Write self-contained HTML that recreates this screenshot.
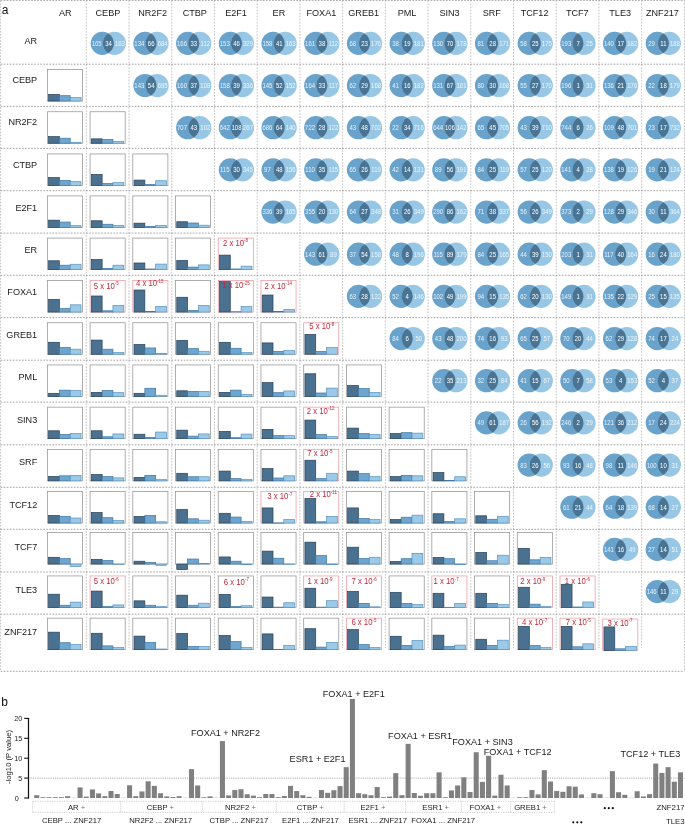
<!DOCTYPE html>
<html><head><meta charset="utf-8"><title>Figure</title>
<style>html,body{margin:0;padding:0;background:#fff;}body{width:685px;height:824px;position:relative;overflow:hidden;font-family:"Liberation Sans",sans-serif;}</style></head>
<body>
<svg width="685" height="824" viewBox="0 0 685 824" style="position:absolute;left:0;top:0;will-change:transform" font-family="Liberation Sans, sans-serif">
<rect width="685" height="824" fill="#fff"/>
<g fill="none" stroke-width="0.7" stroke-dasharray="1.7 1.35">
<path d="M0.6 0.4H684.5" stroke="#808080"/>
<path d="M0.6 671.3H684.5" stroke="#808080"/>
<path d="M0.6 0.4V671.4" stroke="#ababab"/>
<path d="M684.5 0.4V671.4" stroke="#ababab"/>
<path d="M86.30 0.4V648" stroke="#ababab"/>
<path d="M129.02 0.4V648" stroke="#ababab"/>
<path d="M171.74 0.4V648" stroke="#ababab"/>
<path d="M214.46 0.4V648" stroke="#ababab"/>
<path d="M257.18 0.4V648" stroke="#ababab"/>
<path d="M299.90 0.4V648" stroke="#ababab"/>
<path d="M342.62 0.4V648" stroke="#ababab"/>
<path d="M385.34 0.4V648" stroke="#ababab"/>
<path d="M428.06 0.4V648" stroke="#ababab"/>
<path d="M470.78 0.4V648" stroke="#ababab"/>
<path d="M513.50 0.4V648" stroke="#ababab"/>
<path d="M556.22 0.4V648" stroke="#ababab"/>
<path d="M598.94 0.4V648" stroke="#ababab"/>
<path d="M641.66 0.4V648" stroke="#ababab"/>
<path d="M0.6 64.20H684.5" stroke="#808080"/>
<path d="M0.6 106.40H684.5" stroke="#808080"/>
<path d="M0.6 148.40H684.5" stroke="#808080"/>
<path d="M0.6 190.70H684.5" stroke="#808080"/>
<path d="M0.6 233.10H684.5" stroke="#808080"/>
<path d="M0.6 275.30H684.5" stroke="#808080"/>
<path d="M0.6 317.60H684.5" stroke="#808080"/>
<path d="M0.6 360.20H684.5" stroke="#808080"/>
<path d="M0.6 402.10H684.5" stroke="#808080"/>
<path d="M0.6 444.80H684.5" stroke="#808080"/>
<path d="M0.6 487.30H684.5" stroke="#808080"/>
<path d="M0.6 529.30H684.5" stroke="#808080"/>
<path d="M0.6 572.00H684.5" stroke="#808080"/>
<path d="M0.6 614.20H684.5" stroke="#808080"/>
</g>
<g font-size="9.1" fill="#1a1a1a">
<text x="65.25" y="15.8" text-anchor="middle">AR</text>
<text x="107.90" y="15.8" text-anchor="middle">CEBP</text>
<text x="152.60" y="15.8" text-anchor="middle">NR2F2</text>
<text x="194.80" y="15.8" text-anchor="middle">CTBP</text>
<text x="236.00" y="15.8" text-anchor="middle">E2F1</text>
<text x="278.90" y="15.8" text-anchor="middle">ER</text>
<text x="321.40" y="15.8" text-anchor="middle">FOXA1</text>
<text x="363.70" y="15.8" text-anchor="middle">GREB1</text>
<text x="407.00" y="15.8" text-anchor="middle">PML</text>
<text x="449.50" y="15.8" text-anchor="middle">SIN3</text>
<text x="491.80" y="15.8" text-anchor="middle">SRF</text>
<text x="534.60" y="15.8" text-anchor="middle">TCF12</text>
<text x="577.25" y="15.8" text-anchor="middle">TCF7</text>
<text x="620.20" y="15.8" text-anchor="middle">TLE3</text>
<text x="662.40" y="15.8" text-anchor="middle">ZNF217</text>
<text x="37.2" y="43.70" text-anchor="end">AR</text>
<text x="37.2" y="82.70" text-anchor="end">CEBP</text>
<text x="37.2" y="125.40" text-anchor="end">NR2F2</text>
<text x="37.2" y="168.10" text-anchor="end">CTBP</text>
<text x="37.2" y="210.60" text-anchor="end">E2F1</text>
<text x="37.2" y="252.70" text-anchor="end">ER</text>
<text x="37.2" y="295.40" text-anchor="end">FOXA1</text>
<text x="37.2" y="337.50" text-anchor="end">GREB1</text>
<text x="37.2" y="380.40" text-anchor="end">PML</text>
<text x="37.2" y="422.70" text-anchor="end">SIN3</text>
<text x="37.2" y="465.40" text-anchor="end">SRF</text>
<text x="37.2" y="507.50" text-anchor="end">TCF12</text>
<text x="37.2" y="550.40" text-anchor="end">TCF7</text>
<text x="37.2" y="592.70" text-anchor="end">TLE3</text>
<text x="37.2" y="635.40" text-anchor="end">ZNF217</text>
</g>
<text x="1.8" y="13.9" font-size="12" fill="#111">a</text>
<text x="1.3" y="705.6" font-size="12" fill="#111">b</text>
<circle cx="102.30" cy="43.35" r="11.6" fill="#69a2cb"/>
<circle cx="114.40" cy="43.35" r="11.6" fill="#97c7e5"/>
<path d="M108.35 33.45A11.6 11.6 0 0 1 108.35 53.25A11.6 11.6 0 0 1 108.35 33.45Z" fill="#4a7493"/>
<g font-size="6.5" text-anchor="middle"><text transform="translate(96.65 45.80) scale(.92 1)" fill="#e6f1f9">165</text><text transform="translate(108.45 45.80) scale(.92 1)" fill="#fff">34</text><text transform="translate(119.95 45.80) scale(.92 1)" fill="#edf5fb">163</text></g>
<circle cx="144.99" cy="43.35" r="11.6" fill="#69a2cb"/>
<circle cx="157.09" cy="43.35" r="11.6" fill="#97c7e5"/>
<path d="M151.04 33.45A11.6 11.6 0 0 1 151.04 53.25A11.6 11.6 0 0 1 151.04 33.45Z" fill="#4a7493"/>
<g font-size="6.5" text-anchor="middle"><text transform="translate(139.34 45.80) scale(.92 1)" fill="#e6f1f9">134</text><text transform="translate(151.14 45.80) scale(.92 1)" fill="#fff">66</text><text transform="translate(162.64 45.80) scale(.92 1)" fill="#edf5fb">684</text></g>
<circle cx="187.68" cy="43.35" r="11.6" fill="#69a2cb"/>
<circle cx="199.78" cy="43.35" r="11.6" fill="#97c7e5"/>
<path d="M193.73 33.45A11.6 11.6 0 0 1 193.73 53.25A11.6 11.6 0 0 1 193.73 33.45Z" fill="#4a7493"/>
<g font-size="6.5" text-anchor="middle"><text transform="translate(182.03 45.80) scale(.92 1)" fill="#e6f1f9">166</text><text transform="translate(193.83 45.80) scale(.92 1)" fill="#fff">33</text><text transform="translate(205.33 45.80) scale(.92 1)" fill="#edf5fb">112</text></g>
<circle cx="230.37" cy="43.35" r="11.6" fill="#69a2cb"/>
<circle cx="242.47" cy="43.35" r="11.6" fill="#97c7e5"/>
<path d="M236.42 33.45A11.6 11.6 0 0 1 236.42 53.25A11.6 11.6 0 0 1 236.42 33.45Z" fill="#4a7493"/>
<g font-size="6.5" text-anchor="middle"><text transform="translate(224.72 45.80) scale(.92 1)" fill="#e6f1f9">153</text><text transform="translate(236.52 45.80) scale(.92 1)" fill="#fff">46</text><text transform="translate(248.02 45.80) scale(.92 1)" fill="#edf5fb">329</text></g>
<circle cx="273.06" cy="43.35" r="11.6" fill="#69a2cb"/>
<circle cx="285.16" cy="43.35" r="11.6" fill="#97c7e5"/>
<path d="M279.11 33.45A11.6 11.6 0 0 1 279.11 53.25A11.6 11.6 0 0 1 279.11 33.45Z" fill="#4a7493"/>
<g font-size="6.5" text-anchor="middle"><text transform="translate(267.41 45.80) scale(.92 1)" fill="#e6f1f9">158</text><text transform="translate(279.21 45.80) scale(.92 1)" fill="#fff">41</text><text transform="translate(290.71 45.80) scale(.92 1)" fill="#edf5fb">163</text></g>
<circle cx="315.75" cy="43.35" r="11.6" fill="#69a2cb"/>
<circle cx="327.85" cy="43.35" r="11.6" fill="#97c7e5"/>
<path d="M321.80 33.45A11.6 11.6 0 0 1 321.80 53.25A11.6 11.6 0 0 1 321.80 33.45Z" fill="#4a7493"/>
<g font-size="6.5" text-anchor="middle"><text transform="translate(310.10 45.80) scale(.92 1)" fill="#e6f1f9">161</text><text transform="translate(321.90 45.80) scale(.92 1)" fill="#fff">38</text><text transform="translate(333.40 45.80) scale(.92 1)" fill="#edf5fb">112</text></g>
<circle cx="358.44" cy="43.35" r="11.6" fill="#69a2cb"/>
<circle cx="370.54" cy="43.35" r="11.6" fill="#97c7e5"/>
<path d="M364.49 33.45A11.6 11.6 0 0 1 364.49 53.25A11.6 11.6 0 0 1 364.49 33.45Z" fill="#4a7493"/>
<g font-size="6.5" text-anchor="middle"><text transform="translate(352.79 45.80) scale(.92 1)" fill="#e6f1f9">68</text><text transform="translate(364.59 45.80) scale(.92 1)" fill="#fff">23</text><text transform="translate(376.09 45.80) scale(.92 1)" fill="#edf5fb">176</text></g>
<circle cx="401.13" cy="43.35" r="11.6" fill="#69a2cb"/>
<circle cx="413.23" cy="43.35" r="11.6" fill="#97c7e5"/>
<path d="M407.18 33.45A11.6 11.6 0 0 1 407.18 53.25A11.6 11.6 0 0 1 407.18 33.45Z" fill="#4a7493"/>
<g font-size="6.5" text-anchor="middle"><text transform="translate(395.48 45.80) scale(.92 1)" fill="#e6f1f9">38</text><text transform="translate(407.28 45.80) scale(.92 1)" fill="#fff">19</text><text transform="translate(418.78 45.80) scale(.92 1)" fill="#edf5fb">181</text></g>
<circle cx="443.82" cy="43.35" r="11.6" fill="#69a2cb"/>
<circle cx="455.92" cy="43.35" r="11.6" fill="#97c7e5"/>
<path d="M449.87 33.45A11.6 11.6 0 0 1 449.87 53.25A11.6 11.6 0 0 1 449.87 33.45Z" fill="#4a7493"/>
<g font-size="6.5" text-anchor="middle"><text transform="translate(438.17 45.80) scale(.92 1)" fill="#e6f1f9">130</text><text transform="translate(449.97 45.80) scale(.92 1)" fill="#fff">70</text><text transform="translate(461.47 45.80) scale(.92 1)" fill="#edf5fb">178</text></g>
<circle cx="486.51" cy="43.35" r="11.6" fill="#69a2cb"/>
<circle cx="498.61" cy="43.35" r="11.6" fill="#97c7e5"/>
<path d="M492.56 33.45A11.6 11.6 0 0 1 492.56 53.25A11.6 11.6 0 0 1 492.56 33.45Z" fill="#4a7493"/>
<g font-size="6.5" text-anchor="middle"><text transform="translate(480.86 45.80) scale(.92 1)" fill="#e6f1f9">81</text><text transform="translate(492.66 45.80) scale(.92 1)" fill="#fff">28</text><text transform="translate(504.16 45.80) scale(.92 1)" fill="#edf5fb">171</text></g>
<circle cx="529.20" cy="43.35" r="11.6" fill="#69a2cb"/>
<circle cx="541.30" cy="43.35" r="11.6" fill="#97c7e5"/>
<path d="M535.25 33.45A11.6 11.6 0 0 1 535.25 53.25A11.6 11.6 0 0 1 535.25 33.45Z" fill="#4a7493"/>
<g font-size="6.5" text-anchor="middle"><text transform="translate(523.55 45.80) scale(.92 1)" fill="#e6f1f9">58</text><text transform="translate(535.35 45.80) scale(.92 1)" fill="#fff">25</text><text transform="translate(546.85 45.80) scale(.92 1)" fill="#edf5fb">175</text></g>
<circle cx="571.89" cy="43.35" r="11.6" fill="#69a2cb"/>
<circle cx="583.99" cy="43.35" r="11.6" fill="#97c7e5"/>
<path d="M577.94 33.45A11.6 11.6 0 0 1 577.94 53.25A11.6 11.6 0 0 1 577.94 33.45Z" fill="#4a7493"/>
<g font-size="6.5" text-anchor="middle"><text transform="translate(566.24 45.80) scale(.92 1)" fill="#e6f1f9">193</text><text transform="translate(578.04 45.80) scale(.92 1)" fill="#fff">7</text><text transform="translate(589.54 45.80) scale(.92 1)" fill="#edf5fb">25</text></g>
<circle cx="614.58" cy="43.35" r="11.6" fill="#69a2cb"/>
<circle cx="626.68" cy="43.35" r="11.6" fill="#97c7e5"/>
<path d="M620.63 33.45A11.6 11.6 0 0 1 620.63 53.25A11.6 11.6 0 0 1 620.63 33.45Z" fill="#4a7493"/>
<g font-size="6.5" text-anchor="middle"><text transform="translate(608.93 45.80) scale(.92 1)" fill="#e6f1f9">140</text><text transform="translate(620.73 45.80) scale(.92 1)" fill="#fff">17</text><text transform="translate(632.23 45.80) scale(.92 1)" fill="#edf5fb">182</text></g>
<circle cx="657.27" cy="43.35" r="11.6" fill="#69a2cb"/>
<circle cx="669.37" cy="43.35" r="11.6" fill="#97c7e5"/>
<path d="M663.32 33.45A11.6 11.6 0 0 1 663.32 53.25A11.6 11.6 0 0 1 663.32 33.45Z" fill="#4a7493"/>
<g font-size="6.5" text-anchor="middle"><text transform="translate(651.62 45.80) scale(.92 1)" fill="#e6f1f9">29</text><text transform="translate(663.42 45.80) scale(.92 1)" fill="#fff">11</text><text transform="translate(674.92 45.80) scale(.92 1)" fill="#edf5fb">188</text></g>
<circle cx="144.99" cy="85.52" r="11.6" fill="#69a2cb"/>
<circle cx="157.09" cy="85.52" r="11.6" fill="#97c7e5"/>
<path d="M151.04 75.62A11.6 11.6 0 0 1 151.04 95.42A11.6 11.6 0 0 1 151.04 75.62Z" fill="#4a7493"/>
<g font-size="6.5" text-anchor="middle"><text transform="translate(139.34 87.97) scale(.92 1)" fill="#e6f1f9">143</text><text transform="translate(151.14 87.97) scale(.92 1)" fill="#fff">54</text><text transform="translate(162.64 87.97) scale(.92 1)" fill="#edf5fb">695</text></g>
<circle cx="187.68" cy="85.52" r="11.6" fill="#69a2cb"/>
<circle cx="199.78" cy="85.52" r="11.6" fill="#97c7e5"/>
<path d="M193.73 75.62A11.6 11.6 0 0 1 193.73 95.42A11.6 11.6 0 0 1 193.73 75.62Z" fill="#4a7493"/>
<g font-size="6.5" text-anchor="middle"><text transform="translate(182.03 87.97) scale(.92 1)" fill="#e6f1f9">160</text><text transform="translate(193.83 87.97) scale(.92 1)" fill="#fff">37</text><text transform="translate(205.33 87.97) scale(.92 1)" fill="#edf5fb">108</text></g>
<circle cx="230.37" cy="85.52" r="11.6" fill="#69a2cb"/>
<circle cx="242.47" cy="85.52" r="11.6" fill="#97c7e5"/>
<path d="M236.42 75.62A11.6 11.6 0 0 1 236.42 95.42A11.6 11.6 0 0 1 236.42 75.62Z" fill="#4a7493"/>
<g font-size="6.5" text-anchor="middle"><text transform="translate(224.72 87.97) scale(.92 1)" fill="#e6f1f9">158</text><text transform="translate(236.52 87.97) scale(.92 1)" fill="#fff">39</text><text transform="translate(248.02 87.97) scale(.92 1)" fill="#edf5fb">336</text></g>
<circle cx="273.06" cy="85.52" r="11.6" fill="#69a2cb"/>
<circle cx="285.16" cy="85.52" r="11.6" fill="#97c7e5"/>
<path d="M279.11 75.62A11.6 11.6 0 0 1 279.11 95.42A11.6 11.6 0 0 1 279.11 75.62Z" fill="#4a7493"/>
<g font-size="6.5" text-anchor="middle"><text transform="translate(267.41 87.97) scale(.92 1)" fill="#e6f1f9">145</text><text transform="translate(279.21 87.97) scale(.92 1)" fill="#fff">52</text><text transform="translate(290.71 87.97) scale(.92 1)" fill="#edf5fb">152</text></g>
<circle cx="315.75" cy="85.52" r="11.6" fill="#69a2cb"/>
<circle cx="327.85" cy="85.52" r="11.6" fill="#97c7e5"/>
<path d="M321.80 75.62A11.6 11.6 0 0 1 321.80 95.42A11.6 11.6 0 0 1 321.80 75.62Z" fill="#4a7493"/>
<g font-size="6.5" text-anchor="middle"><text transform="translate(310.10 87.97) scale(.92 1)" fill="#e6f1f9">164</text><text transform="translate(321.90 87.97) scale(.92 1)" fill="#fff">33</text><text transform="translate(333.40 87.97) scale(.92 1)" fill="#edf5fb">117</text></g>
<circle cx="358.44" cy="85.52" r="11.6" fill="#69a2cb"/>
<circle cx="370.54" cy="85.52" r="11.6" fill="#97c7e5"/>
<path d="M364.49 75.62A11.6 11.6 0 0 1 364.49 95.42A11.6 11.6 0 0 1 364.49 75.62Z" fill="#4a7493"/>
<g font-size="6.5" text-anchor="middle"><text transform="translate(352.79 87.97) scale(.92 1)" fill="#e6f1f9">62</text><text transform="translate(364.59 87.97) scale(.92 1)" fill="#fff">29</text><text transform="translate(376.09 87.97) scale(.92 1)" fill="#edf5fb">168</text></g>
<circle cx="401.13" cy="85.52" r="11.6" fill="#69a2cb"/>
<circle cx="413.23" cy="85.52" r="11.6" fill="#97c7e5"/>
<path d="M407.18 75.62A11.6 11.6 0 0 1 407.18 95.42A11.6 11.6 0 0 1 407.18 75.62Z" fill="#4a7493"/>
<g font-size="6.5" text-anchor="middle"><text transform="translate(395.48 87.97) scale(.92 1)" fill="#e6f1f9">41</text><text transform="translate(407.28 87.97) scale(.92 1)" fill="#fff">16</text><text transform="translate(418.78 87.97) scale(.92 1)" fill="#edf5fb">182</text></g>
<circle cx="443.82" cy="85.52" r="11.6" fill="#69a2cb"/>
<circle cx="455.92" cy="85.52" r="11.6" fill="#97c7e5"/>
<path d="M449.87 75.62A11.6 11.6 0 0 1 449.87 95.42A11.6 11.6 0 0 1 449.87 75.62Z" fill="#4a7493"/>
<g font-size="6.5" text-anchor="middle"><text transform="translate(438.17 87.97) scale(.92 1)" fill="#e6f1f9">131</text><text transform="translate(449.97 87.97) scale(.92 1)" fill="#fff">67</text><text transform="translate(461.47 87.97) scale(.92 1)" fill="#edf5fb">181</text></g>
<circle cx="486.51" cy="85.52" r="11.6" fill="#69a2cb"/>
<circle cx="498.61" cy="85.52" r="11.6" fill="#97c7e5"/>
<path d="M492.56 75.62A11.6 11.6 0 0 1 492.56 95.42A11.6 11.6 0 0 1 492.56 75.62Z" fill="#4a7493"/>
<g font-size="6.5" text-anchor="middle"><text transform="translate(480.86 87.97) scale(.92 1)" fill="#e6f1f9">80</text><text transform="translate(492.66 87.97) scale(.92 1)" fill="#fff">30</text><text transform="translate(504.16 87.97) scale(.92 1)" fill="#edf5fb">168</text></g>
<circle cx="529.20" cy="85.52" r="11.6" fill="#69a2cb"/>
<circle cx="541.30" cy="85.52" r="11.6" fill="#97c7e5"/>
<path d="M535.25 75.62A11.6 11.6 0 0 1 535.25 95.42A11.6 11.6 0 0 1 535.25 75.62Z" fill="#4a7493"/>
<g font-size="6.5" text-anchor="middle"><text transform="translate(523.55 87.97) scale(.92 1)" fill="#e6f1f9">55</text><text transform="translate(535.35 87.97) scale(.92 1)" fill="#fff">27</text><text transform="translate(546.85 87.97) scale(.92 1)" fill="#edf5fb">170</text></g>
<circle cx="571.89" cy="85.52" r="11.6" fill="#69a2cb"/>
<circle cx="583.99" cy="85.52" r="11.6" fill="#97c7e5"/>
<path d="M577.94 75.62A11.6 11.6 0 0 1 577.94 95.42A11.6 11.6 0 0 1 577.94 75.62Z" fill="#4a7493"/>
<g font-size="6.5" text-anchor="middle"><text transform="translate(566.24 87.97) scale(.92 1)" fill="#e6f1f9">196</text><text transform="translate(578.04 87.97) scale(.92 1)" fill="#fff">1</text><text transform="translate(589.54 87.97) scale(.92 1)" fill="#edf5fb">31</text></g>
<circle cx="614.58" cy="85.52" r="11.6" fill="#69a2cb"/>
<circle cx="626.68" cy="85.52" r="11.6" fill="#97c7e5"/>
<path d="M620.63 75.62A11.6 11.6 0 0 1 620.63 95.42A11.6 11.6 0 0 1 620.63 75.62Z" fill="#4a7493"/>
<g font-size="6.5" text-anchor="middle"><text transform="translate(608.93 87.97) scale(.92 1)" fill="#e6f1f9">136</text><text transform="translate(620.73 87.97) scale(.92 1)" fill="#fff">21</text><text transform="translate(632.23 87.97) scale(.92 1)" fill="#edf5fb">176</text></g>
<circle cx="657.27" cy="85.52" r="11.6" fill="#69a2cb"/>
<circle cx="669.37" cy="85.52" r="11.6" fill="#97c7e5"/>
<path d="M663.32 75.62A11.6 11.6 0 0 1 663.32 95.42A11.6 11.6 0 0 1 663.32 75.62Z" fill="#4a7493"/>
<g font-size="6.5" text-anchor="middle"><text transform="translate(651.62 87.97) scale(.92 1)" fill="#e6f1f9">22</text><text transform="translate(663.42 87.97) scale(.92 1)" fill="#fff">18</text><text transform="translate(674.92 87.97) scale(.92 1)" fill="#edf5fb">179</text></g>
<circle cx="187.68" cy="127.69" r="11.6" fill="#69a2cb"/>
<circle cx="199.78" cy="127.69" r="11.6" fill="#97c7e5"/>
<path d="M193.73 117.79A11.6 11.6 0 0 1 193.73 137.59A11.6 11.6 0 0 1 193.73 117.79Z" fill="#4a7493"/>
<g font-size="6.5" text-anchor="middle"><text transform="translate(182.03 130.14) scale(.92 1)" fill="#e6f1f9">707</text><text transform="translate(193.83 130.14) scale(.92 1)" fill="#fff">43</text><text transform="translate(205.33 130.14) scale(.92 1)" fill="#edf5fb">102</text></g>
<circle cx="230.37" cy="127.69" r="11.6" fill="#69a2cb"/>
<circle cx="242.47" cy="127.69" r="11.6" fill="#97c7e5"/>
<path d="M236.42 117.79A11.6 11.6 0 0 1 236.42 137.59A11.6 11.6 0 0 1 236.42 117.79Z" fill="#4a7493"/>
<g font-size="6.5" text-anchor="middle"><text transform="translate(224.72 130.14) scale(.92 1)" fill="#e6f1f9">642</text><text transform="translate(236.52 130.14) scale(.92 1)" fill="#fff">108</text><text transform="translate(248.02 130.14) scale(.92 1)" fill="#edf5fb">267</text></g>
<circle cx="273.06" cy="127.69" r="11.6" fill="#69a2cb"/>
<circle cx="285.16" cy="127.69" r="11.6" fill="#97c7e5"/>
<path d="M279.11 117.79A11.6 11.6 0 0 1 279.11 137.59A11.6 11.6 0 0 1 279.11 117.79Z" fill="#4a7493"/>
<g font-size="6.5" text-anchor="middle"><text transform="translate(267.41 130.14) scale(.92 1)" fill="#e6f1f9">686</text><text transform="translate(279.21 130.14) scale(.92 1)" fill="#fff">64</text><text transform="translate(290.71 130.14) scale(.92 1)" fill="#edf5fb">140</text></g>
<circle cx="315.75" cy="127.69" r="11.6" fill="#69a2cb"/>
<circle cx="327.85" cy="127.69" r="11.6" fill="#97c7e5"/>
<path d="M321.80 117.79A11.6 11.6 0 0 1 321.80 137.59A11.6 11.6 0 0 1 321.80 117.79Z" fill="#4a7493"/>
<g font-size="6.5" text-anchor="middle"><text transform="translate(310.10 130.14) scale(.92 1)" fill="#e6f1f9">722</text><text transform="translate(321.90 130.14) scale(.92 1)" fill="#fff">28</text><text transform="translate(333.40 130.14) scale(.92 1)" fill="#edf5fb">122</text></g>
<circle cx="358.44" cy="127.69" r="11.6" fill="#69a2cb"/>
<circle cx="370.54" cy="127.69" r="11.6" fill="#97c7e5"/>
<path d="M364.49 117.79A11.6 11.6 0 0 1 364.49 137.59A11.6 11.6 0 0 1 364.49 117.79Z" fill="#4a7493"/>
<g font-size="6.5" text-anchor="middle"><text transform="translate(352.79 130.14) scale(.92 1)" fill="#e6f1f9">43</text><text transform="translate(364.59 130.14) scale(.92 1)" fill="#fff">48</text><text transform="translate(376.09 130.14) scale(.92 1)" fill="#edf5fb">702</text></g>
<circle cx="401.13" cy="127.69" r="11.6" fill="#69a2cb"/>
<circle cx="413.23" cy="127.69" r="11.6" fill="#97c7e5"/>
<path d="M407.18 117.79A11.6 11.6 0 0 1 407.18 137.59A11.6 11.6 0 0 1 407.18 117.79Z" fill="#4a7493"/>
<g font-size="6.5" text-anchor="middle"><text transform="translate(395.48 130.14) scale(.92 1)" fill="#e6f1f9">22</text><text transform="translate(407.28 130.14) scale(.92 1)" fill="#fff">34</text><text transform="translate(418.78 130.14) scale(.92 1)" fill="#edf5fb">716</text></g>
<circle cx="443.82" cy="127.69" r="11.6" fill="#69a2cb"/>
<circle cx="455.92" cy="127.69" r="11.6" fill="#97c7e5"/>
<path d="M449.87 117.79A11.6 11.6 0 0 1 449.87 137.59A11.6 11.6 0 0 1 449.87 117.79Z" fill="#4a7493"/>
<g font-size="6.5" text-anchor="middle"><text transform="translate(438.17 130.14) scale(.92 1)" fill="#e6f1f9">644</text><text transform="translate(449.97 130.14) scale(.92 1)" fill="#fff">106</text><text transform="translate(461.47 130.14) scale(.92 1)" fill="#edf5fb">142</text></g>
<circle cx="486.51" cy="127.69" r="11.6" fill="#69a2cb"/>
<circle cx="498.61" cy="127.69" r="11.6" fill="#97c7e5"/>
<path d="M492.56 117.79A11.6 11.6 0 0 1 492.56 137.59A11.6 11.6 0 0 1 492.56 117.79Z" fill="#4a7493"/>
<g font-size="6.5" text-anchor="middle"><text transform="translate(480.86 130.14) scale(.92 1)" fill="#e6f1f9">65</text><text transform="translate(492.66 130.14) scale(.92 1)" fill="#fff">45</text><text transform="translate(504.16 130.14) scale(.92 1)" fill="#edf5fb">705</text></g>
<circle cx="529.20" cy="127.69" r="11.6" fill="#69a2cb"/>
<circle cx="541.30" cy="127.69" r="11.6" fill="#97c7e5"/>
<path d="M535.25 117.79A11.6 11.6 0 0 1 535.25 137.59A11.6 11.6 0 0 1 535.25 117.79Z" fill="#4a7493"/>
<g font-size="6.5" text-anchor="middle"><text transform="translate(523.55 130.14) scale(.92 1)" fill="#e6f1f9">43</text><text transform="translate(535.35 130.14) scale(.92 1)" fill="#fff">39</text><text transform="translate(546.85 130.14) scale(.92 1)" fill="#edf5fb">710</text></g>
<circle cx="571.89" cy="127.69" r="11.6" fill="#69a2cb"/>
<circle cx="583.99" cy="127.69" r="11.6" fill="#97c7e5"/>
<path d="M577.94 117.79A11.6 11.6 0 0 1 577.94 137.59A11.6 11.6 0 0 1 577.94 117.79Z" fill="#4a7493"/>
<g font-size="6.5" text-anchor="middle"><text transform="translate(566.24 130.14) scale(.92 1)" fill="#e6f1f9">744</text><text transform="translate(578.04 130.14) scale(.92 1)" fill="#fff">6</text><text transform="translate(589.54 130.14) scale(.92 1)" fill="#edf5fb">26</text></g>
<circle cx="614.58" cy="127.69" r="11.6" fill="#69a2cb"/>
<circle cx="626.68" cy="127.69" r="11.6" fill="#97c7e5"/>
<path d="M620.63 117.79A11.6 11.6 0 0 1 620.63 137.59A11.6 11.6 0 0 1 620.63 117.79Z" fill="#4a7493"/>
<g font-size="6.5" text-anchor="middle"><text transform="translate(608.93 130.14) scale(.92 1)" fill="#e6f1f9">109</text><text transform="translate(620.73 130.14) scale(.92 1)" fill="#fff">48</text><text transform="translate(632.23 130.14) scale(.92 1)" fill="#edf5fb">701</text></g>
<circle cx="657.27" cy="127.69" r="11.6" fill="#69a2cb"/>
<circle cx="669.37" cy="127.69" r="11.6" fill="#97c7e5"/>
<path d="M663.32 117.79A11.6 11.6 0 0 1 663.32 137.59A11.6 11.6 0 0 1 663.32 117.79Z" fill="#4a7493"/>
<g font-size="6.5" text-anchor="middle"><text transform="translate(651.62 130.14) scale(.92 1)" fill="#e6f1f9">23</text><text transform="translate(663.42 130.14) scale(.92 1)" fill="#fff">17</text><text transform="translate(674.92 130.14) scale(.92 1)" fill="#edf5fb">732</text></g>
<circle cx="230.37" cy="169.86" r="11.6" fill="#69a2cb"/>
<circle cx="242.47" cy="169.86" r="11.6" fill="#97c7e5"/>
<path d="M236.42 159.96A11.6 11.6 0 0 1 236.42 179.76A11.6 11.6 0 0 1 236.42 159.96Z" fill="#4a7493"/>
<g font-size="6.5" text-anchor="middle"><text transform="translate(224.72 172.31) scale(.92 1)" fill="#e6f1f9">115</text><text transform="translate(236.52 172.31) scale(.92 1)" fill="#fff">30</text><text transform="translate(248.02 172.31) scale(.92 1)" fill="#edf5fb">345</text></g>
<circle cx="273.06" cy="169.86" r="11.6" fill="#69a2cb"/>
<circle cx="285.16" cy="169.86" r="11.6" fill="#97c7e5"/>
<path d="M279.11 159.96A11.6 11.6 0 0 1 279.11 179.76A11.6 11.6 0 0 1 279.11 159.96Z" fill="#4a7493"/>
<g font-size="6.5" text-anchor="middle"><text transform="translate(267.41 172.31) scale(.92 1)" fill="#e6f1f9">97</text><text transform="translate(279.21 172.31) scale(.92 1)" fill="#fff">48</text><text transform="translate(290.71 172.31) scale(.92 1)" fill="#edf5fb">156</text></g>
<circle cx="315.75" cy="169.86" r="11.6" fill="#69a2cb"/>
<circle cx="327.85" cy="169.86" r="11.6" fill="#97c7e5"/>
<path d="M321.80 159.96A11.6 11.6 0 0 1 321.80 179.76A11.6 11.6 0 0 1 321.80 159.96Z" fill="#4a7493"/>
<g font-size="6.5" text-anchor="middle"><text transform="translate(310.10 172.31) scale(.92 1)" fill="#e6f1f9">110</text><text transform="translate(321.90 172.31) scale(.92 1)" fill="#fff">35</text><text transform="translate(333.40 172.31) scale(.92 1)" fill="#edf5fb">115</text></g>
<circle cx="358.44" cy="169.86" r="11.6" fill="#69a2cb"/>
<circle cx="370.54" cy="169.86" r="11.6" fill="#97c7e5"/>
<path d="M364.49 159.96A11.6 11.6 0 0 1 364.49 179.76A11.6 11.6 0 0 1 364.49 159.96Z" fill="#4a7493"/>
<g font-size="6.5" text-anchor="middle"><text transform="translate(352.79 172.31) scale(.92 1)" fill="#e6f1f9">65</text><text transform="translate(364.59 172.31) scale(.92 1)" fill="#fff">26</text><text transform="translate(376.09 172.31) scale(.92 1)" fill="#edf5fb">119</text></g>
<circle cx="401.13" cy="169.86" r="11.6" fill="#69a2cb"/>
<circle cx="413.23" cy="169.86" r="11.6" fill="#97c7e5"/>
<path d="M407.18 159.96A11.6 11.6 0 0 1 407.18 179.76A11.6 11.6 0 0 1 407.18 159.96Z" fill="#4a7493"/>
<g font-size="6.5" text-anchor="middle"><text transform="translate(395.48 172.31) scale(.92 1)" fill="#e6f1f9">42</text><text transform="translate(407.28 172.31) scale(.92 1)" fill="#fff">14</text><text transform="translate(418.78 172.31) scale(.92 1)" fill="#edf5fb">131</text></g>
<circle cx="443.82" cy="169.86" r="11.6" fill="#69a2cb"/>
<circle cx="455.92" cy="169.86" r="11.6" fill="#97c7e5"/>
<path d="M449.87 159.96A11.6 11.6 0 0 1 449.87 179.76A11.6 11.6 0 0 1 449.87 159.96Z" fill="#4a7493"/>
<g font-size="6.5" text-anchor="middle"><text transform="translate(438.17 172.31) scale(.92 1)" fill="#e6f1f9">89</text><text transform="translate(449.97 172.31) scale(.92 1)" fill="#fff">56</text><text transform="translate(461.47 172.31) scale(.92 1)" fill="#edf5fb">191</text></g>
<circle cx="486.51" cy="169.86" r="11.6" fill="#69a2cb"/>
<circle cx="498.61" cy="169.86" r="11.6" fill="#97c7e5"/>
<path d="M492.56 159.96A11.6 11.6 0 0 1 492.56 179.76A11.6 11.6 0 0 1 492.56 159.96Z" fill="#4a7493"/>
<g font-size="6.5" text-anchor="middle"><text transform="translate(480.86 172.31) scale(.92 1)" fill="#e6f1f9">84</text><text transform="translate(492.66 172.31) scale(.92 1)" fill="#fff">25</text><text transform="translate(504.16 172.31) scale(.92 1)" fill="#edf5fb">119</text></g>
<circle cx="529.20" cy="169.86" r="11.6" fill="#69a2cb"/>
<circle cx="541.30" cy="169.86" r="11.6" fill="#97c7e5"/>
<path d="M535.25 159.96A11.6 11.6 0 0 1 535.25 179.76A11.6 11.6 0 0 1 535.25 159.96Z" fill="#4a7493"/>
<g font-size="6.5" text-anchor="middle"><text transform="translate(523.55 172.31) scale(.92 1)" fill="#e6f1f9">57</text><text transform="translate(535.35 172.31) scale(.92 1)" fill="#fff">25</text><text transform="translate(546.85 172.31) scale(.92 1)" fill="#edf5fb">120</text></g>
<circle cx="571.89" cy="169.86" r="11.6" fill="#69a2cb"/>
<circle cx="583.99" cy="169.86" r="11.6" fill="#97c7e5"/>
<path d="M577.94 159.96A11.6 11.6 0 0 1 577.94 179.76A11.6 11.6 0 0 1 577.94 159.96Z" fill="#4a7493"/>
<g font-size="6.5" text-anchor="middle"><text transform="translate(566.24 172.31) scale(.92 1)" fill="#e6f1f9">141</text><text transform="translate(578.04 172.31) scale(.92 1)" fill="#fff">4</text><text transform="translate(589.54 172.31) scale(.92 1)" fill="#edf5fb">28</text></g>
<circle cx="614.58" cy="169.86" r="11.6" fill="#69a2cb"/>
<circle cx="626.68" cy="169.86" r="11.6" fill="#97c7e5"/>
<path d="M620.63 159.96A11.6 11.6 0 0 1 620.63 179.76A11.6 11.6 0 0 1 620.63 159.96Z" fill="#4a7493"/>
<g font-size="6.5" text-anchor="middle"><text transform="translate(608.93 172.31) scale(.92 1)" fill="#e6f1f9">138</text><text transform="translate(620.73 172.31) scale(.92 1)" fill="#fff">19</text><text transform="translate(632.23 172.31) scale(.92 1)" fill="#edf5fb">126</text></g>
<circle cx="657.27" cy="169.86" r="11.6" fill="#69a2cb"/>
<circle cx="669.37" cy="169.86" r="11.6" fill="#97c7e5"/>
<path d="M663.32 159.96A11.6 11.6 0 0 1 663.32 179.76A11.6 11.6 0 0 1 663.32 159.96Z" fill="#4a7493"/>
<g font-size="6.5" text-anchor="middle"><text transform="translate(651.62 172.31) scale(.92 1)" fill="#e6f1f9">19</text><text transform="translate(663.42 172.31) scale(.92 1)" fill="#fff">21</text><text transform="translate(674.92 172.31) scale(.92 1)" fill="#edf5fb">124</text></g>
<circle cx="273.06" cy="212.03" r="11.6" fill="#69a2cb"/>
<circle cx="285.16" cy="212.03" r="11.6" fill="#97c7e5"/>
<path d="M279.11 202.13A11.6 11.6 0 0 1 279.11 221.93A11.6 11.6 0 0 1 279.11 202.13Z" fill="#4a7493"/>
<g font-size="6.5" text-anchor="middle"><text transform="translate(267.41 214.48) scale(.92 1)" fill="#e6f1f9">336</text><text transform="translate(279.21 214.48) scale(.92 1)" fill="#fff">39</text><text transform="translate(290.71 214.48) scale(.92 1)" fill="#edf5fb">165</text></g>
<circle cx="315.75" cy="212.03" r="11.6" fill="#69a2cb"/>
<circle cx="327.85" cy="212.03" r="11.6" fill="#97c7e5"/>
<path d="M321.80 202.13A11.6 11.6 0 0 1 321.80 221.93A11.6 11.6 0 0 1 321.80 202.13Z" fill="#4a7493"/>
<g font-size="6.5" text-anchor="middle"><text transform="translate(310.10 214.48) scale(.92 1)" fill="#e6f1f9">355</text><text transform="translate(321.90 214.48) scale(.92 1)" fill="#fff">20</text><text transform="translate(333.40 214.48) scale(.92 1)" fill="#edf5fb">130</text></g>
<circle cx="358.44" cy="212.03" r="11.6" fill="#69a2cb"/>
<circle cx="370.54" cy="212.03" r="11.6" fill="#97c7e5"/>
<path d="M364.49 202.13A11.6 11.6 0 0 1 364.49 221.93A11.6 11.6 0 0 1 364.49 202.13Z" fill="#4a7493"/>
<g font-size="6.5" text-anchor="middle"><text transform="translate(352.79 214.48) scale(.92 1)" fill="#e6f1f9">64</text><text transform="translate(364.59 214.48) scale(.92 1)" fill="#fff">27</text><text transform="translate(376.09 214.48) scale(.92 1)" fill="#edf5fb">348</text></g>
<circle cx="401.13" cy="212.03" r="11.6" fill="#69a2cb"/>
<circle cx="413.23" cy="212.03" r="11.6" fill="#97c7e5"/>
<path d="M407.18 202.13A11.6 11.6 0 0 1 407.18 221.93A11.6 11.6 0 0 1 407.18 202.13Z" fill="#4a7493"/>
<g font-size="6.5" text-anchor="middle"><text transform="translate(395.48 214.48) scale(.92 1)" fill="#e6f1f9">31</text><text transform="translate(407.28 214.48) scale(.92 1)" fill="#fff">26</text><text transform="translate(418.78 214.48) scale(.92 1)" fill="#edf5fb">349</text></g>
<circle cx="443.82" cy="212.03" r="11.6" fill="#69a2cb"/>
<circle cx="455.92" cy="212.03" r="11.6" fill="#97c7e5"/>
<path d="M449.87 202.13A11.6 11.6 0 0 1 449.87 221.93A11.6 11.6 0 0 1 449.87 202.13Z" fill="#4a7493"/>
<g font-size="6.5" text-anchor="middle"><text transform="translate(438.17 214.48) scale(.92 1)" fill="#e6f1f9">290</text><text transform="translate(449.97 214.48) scale(.92 1)" fill="#fff">86</text><text transform="translate(461.47 214.48) scale(.92 1)" fill="#edf5fb">162</text></g>
<circle cx="486.51" cy="212.03" r="11.6" fill="#69a2cb"/>
<circle cx="498.61" cy="212.03" r="11.6" fill="#97c7e5"/>
<path d="M492.56 202.13A11.6 11.6 0 0 1 492.56 221.93A11.6 11.6 0 0 1 492.56 202.13Z" fill="#4a7493"/>
<g font-size="6.5" text-anchor="middle"><text transform="translate(480.86 214.48) scale(.92 1)" fill="#e6f1f9">71</text><text transform="translate(492.66 214.48) scale(.92 1)" fill="#fff">38</text><text transform="translate(504.16 214.48) scale(.92 1)" fill="#edf5fb">337</text></g>
<circle cx="529.20" cy="212.03" r="11.6" fill="#69a2cb"/>
<circle cx="541.30" cy="212.03" r="11.6" fill="#97c7e5"/>
<path d="M535.25 202.13A11.6 11.6 0 0 1 535.25 221.93A11.6 11.6 0 0 1 535.25 202.13Z" fill="#4a7493"/>
<g font-size="6.5" text-anchor="middle"><text transform="translate(523.55 214.48) scale(.92 1)" fill="#e6f1f9">56</text><text transform="translate(535.35 214.48) scale(.92 1)" fill="#fff">26</text><text transform="translate(546.85 214.48) scale(.92 1)" fill="#edf5fb">349</text></g>
<circle cx="571.89" cy="212.03" r="11.6" fill="#69a2cb"/>
<circle cx="583.99" cy="212.03" r="11.6" fill="#97c7e5"/>
<path d="M577.94 202.13A11.6 11.6 0 0 1 577.94 221.93A11.6 11.6 0 0 1 577.94 202.13Z" fill="#4a7493"/>
<g font-size="6.5" text-anchor="middle"><text transform="translate(566.24 214.48) scale(.92 1)" fill="#e6f1f9">373</text><text transform="translate(578.04 214.48) scale(.92 1)" fill="#fff">2</text><text transform="translate(589.54 214.48) scale(.92 1)" fill="#edf5fb">29</text></g>
<circle cx="614.58" cy="212.03" r="11.6" fill="#69a2cb"/>
<circle cx="626.68" cy="212.03" r="11.6" fill="#97c7e5"/>
<path d="M620.63 202.13A11.6 11.6 0 0 1 620.63 221.93A11.6 11.6 0 0 1 620.63 202.13Z" fill="#4a7493"/>
<g font-size="6.5" text-anchor="middle"><text transform="translate(608.93 214.48) scale(.92 1)" fill="#e6f1f9">128</text><text transform="translate(620.73 214.48) scale(.92 1)" fill="#fff">29</text><text transform="translate(632.23 214.48) scale(.92 1)" fill="#edf5fb">346</text></g>
<circle cx="657.27" cy="212.03" r="11.6" fill="#69a2cb"/>
<circle cx="669.37" cy="212.03" r="11.6" fill="#97c7e5"/>
<path d="M663.32 202.13A11.6 11.6 0 0 1 663.32 221.93A11.6 11.6 0 0 1 663.32 202.13Z" fill="#4a7493"/>
<g font-size="6.5" text-anchor="middle"><text transform="translate(651.62 214.48) scale(.92 1)" fill="#e6f1f9">30</text><text transform="translate(663.42 214.48) scale(.92 1)" fill="#fff">11</text><text transform="translate(674.92 214.48) scale(.92 1)" fill="#edf5fb">364</text></g>
<circle cx="315.75" cy="254.20" r="11.6" fill="#69a2cb"/>
<circle cx="327.85" cy="254.20" r="11.6" fill="#97c7e5"/>
<path d="M321.80 244.30A11.6 11.6 0 0 1 321.80 264.10A11.6 11.6 0 0 1 321.80 244.30Z" fill="#4a7493"/>
<g font-size="6.5" text-anchor="middle"><text transform="translate(310.10 256.65) scale(.92 1)" fill="#e6f1f9">143</text><text transform="translate(321.90 256.65) scale(.92 1)" fill="#fff">61</text><text transform="translate(333.40 256.65) scale(.92 1)" fill="#edf5fb">89</text></g>
<circle cx="358.44" cy="254.20" r="11.6" fill="#69a2cb"/>
<circle cx="370.54" cy="254.20" r="11.6" fill="#97c7e5"/>
<path d="M364.49 244.30A11.6 11.6 0 0 1 364.49 264.10A11.6 11.6 0 0 1 364.49 244.30Z" fill="#4a7493"/>
<g font-size="6.5" text-anchor="middle"><text transform="translate(352.79 256.65) scale(.92 1)" fill="#e6f1f9">37</text><text transform="translate(364.59 256.65) scale(.92 1)" fill="#fff">54</text><text transform="translate(376.09 256.65) scale(.92 1)" fill="#edf5fb">158</text></g>
<circle cx="401.13" cy="254.20" r="11.6" fill="#69a2cb"/>
<circle cx="413.23" cy="254.20" r="11.6" fill="#97c7e5"/>
<path d="M407.18 244.30A11.6 11.6 0 0 1 407.18 264.10A11.6 11.6 0 0 1 407.18 244.30Z" fill="#4a7493"/>
<g font-size="6.5" text-anchor="middle"><text transform="translate(395.48 256.65) scale(.92 1)" fill="#e6f1f9">48</text><text transform="translate(407.28 256.65) scale(.92 1)" fill="#fff">8</text><text transform="translate(418.78 256.65) scale(.92 1)" fill="#edf5fb">196</text></g>
<circle cx="443.82" cy="254.20" r="11.6" fill="#69a2cb"/>
<circle cx="455.92" cy="254.20" r="11.6" fill="#97c7e5"/>
<path d="M449.87 244.30A11.6 11.6 0 0 1 449.87 264.10A11.6 11.6 0 0 1 449.87 244.30Z" fill="#4a7493"/>
<g font-size="6.5" text-anchor="middle"><text transform="translate(438.17 256.65) scale(.92 1)" fill="#e6f1f9">115</text><text transform="translate(449.97 256.65) scale(.92 1)" fill="#fff">89</text><text transform="translate(461.47 256.65) scale(.92 1)" fill="#edf5fb">179</text></g>
<circle cx="486.51" cy="254.20" r="11.6" fill="#69a2cb"/>
<circle cx="498.61" cy="254.20" r="11.6" fill="#97c7e5"/>
<path d="M492.56 244.30A11.6 11.6 0 0 1 492.56 264.10A11.6 11.6 0 0 1 492.56 244.30Z" fill="#4a7493"/>
<g font-size="6.5" text-anchor="middle"><text transform="translate(480.86 256.65) scale(.92 1)" fill="#e6f1f9">84</text><text transform="translate(492.66 256.65) scale(.92 1)" fill="#fff">25</text><text transform="translate(504.16 256.65) scale(.92 1)" fill="#edf5fb">165</text></g>
<circle cx="529.20" cy="254.20" r="11.6" fill="#69a2cb"/>
<circle cx="541.30" cy="254.20" r="11.6" fill="#97c7e5"/>
<path d="M535.25 244.30A11.6 11.6 0 0 1 535.25 264.10A11.6 11.6 0 0 1 535.25 244.30Z" fill="#4a7493"/>
<g font-size="6.5" text-anchor="middle"><text transform="translate(523.55 256.65) scale(.92 1)" fill="#e6f1f9">44</text><text transform="translate(535.35 256.65) scale(.92 1)" fill="#fff">39</text><text transform="translate(546.85 256.65) scale(.92 1)" fill="#edf5fb">150</text></g>
<circle cx="571.89" cy="254.20" r="11.6" fill="#69a2cb"/>
<circle cx="583.99" cy="254.20" r="11.6" fill="#97c7e5"/>
<path d="M577.94 244.30A11.6 11.6 0 0 1 577.94 264.10A11.6 11.6 0 0 1 577.94 244.30Z" fill="#4a7493"/>
<g font-size="6.5" text-anchor="middle"><text transform="translate(566.24 256.65) scale(.92 1)" fill="#e6f1f9">203</text><text transform="translate(578.04 256.65) scale(.92 1)" fill="#fff">1</text><text transform="translate(589.54 256.65) scale(.92 1)" fill="#edf5fb">31</text></g>
<circle cx="614.58" cy="254.20" r="11.6" fill="#69a2cb"/>
<circle cx="626.68" cy="254.20" r="11.6" fill="#97c7e5"/>
<path d="M620.63 244.30A11.6 11.6 0 0 1 620.63 264.10A11.6 11.6 0 0 1 620.63 244.30Z" fill="#4a7493"/>
<g font-size="6.5" text-anchor="middle"><text transform="translate(608.93 256.65) scale(.92 1)" fill="#e6f1f9">117</text><text transform="translate(620.73 256.65) scale(.92 1)" fill="#fff">40</text><text transform="translate(632.23 256.65) scale(.92 1)" fill="#edf5fb">164</text></g>
<circle cx="657.27" cy="254.20" r="11.6" fill="#69a2cb"/>
<circle cx="669.37" cy="254.20" r="11.6" fill="#97c7e5"/>
<path d="M663.32 244.30A11.6 11.6 0 0 1 663.32 264.10A11.6 11.6 0 0 1 663.32 244.30Z" fill="#4a7493"/>
<g font-size="6.5" text-anchor="middle"><text transform="translate(651.62 256.65) scale(.92 1)" fill="#e6f1f9">16</text><text transform="translate(663.42 256.65) scale(.92 1)" fill="#fff">24</text><text transform="translate(674.92 256.65) scale(.92 1)" fill="#edf5fb">180</text></g>
<circle cx="358.44" cy="296.37" r="11.6" fill="#69a2cb"/>
<circle cx="370.54" cy="296.37" r="11.6" fill="#97c7e5"/>
<path d="M364.49 286.47A11.6 11.6 0 0 1 364.49 306.27A11.6 11.6 0 0 1 364.49 286.47Z" fill="#4a7493"/>
<g font-size="6.5" text-anchor="middle"><text transform="translate(352.79 298.82) scale(.92 1)" fill="#e6f1f9">63</text><text transform="translate(364.59 298.82) scale(.92 1)" fill="#fff">28</text><text transform="translate(376.09 298.82) scale(.92 1)" fill="#edf5fb">122</text></g>
<circle cx="401.13" cy="296.37" r="11.6" fill="#69a2cb"/>
<circle cx="413.23" cy="296.37" r="11.6" fill="#97c7e5"/>
<path d="M407.18 286.47A11.6 11.6 0 0 1 407.18 306.27A11.6 11.6 0 0 1 407.18 286.47Z" fill="#4a7493"/>
<g font-size="6.5" text-anchor="middle"><text transform="translate(395.48 298.82) scale(.92 1)" fill="#e6f1f9">52</text><text transform="translate(407.28 298.82) scale(.92 1)" fill="#fff">4</text><text transform="translate(418.78 298.82) scale(.92 1)" fill="#edf5fb">146</text></g>
<circle cx="443.82" cy="296.37" r="11.6" fill="#69a2cb"/>
<circle cx="455.92" cy="296.37" r="11.6" fill="#97c7e5"/>
<path d="M449.87 286.47A11.6 11.6 0 0 1 449.87 306.27A11.6 11.6 0 0 1 449.87 286.47Z" fill="#4a7493"/>
<g font-size="6.5" text-anchor="middle"><text transform="translate(438.17 298.82) scale(.92 1)" fill="#e6f1f9">102</text><text transform="translate(449.97 298.82) scale(.92 1)" fill="#fff">49</text><text transform="translate(461.47 298.82) scale(.92 1)" fill="#edf5fb">199</text></g>
<circle cx="486.51" cy="296.37" r="11.6" fill="#69a2cb"/>
<circle cx="498.61" cy="296.37" r="11.6" fill="#97c7e5"/>
<path d="M492.56 286.47A11.6 11.6 0 0 1 492.56 306.27A11.6 11.6 0 0 1 492.56 286.47Z" fill="#4a7493"/>
<g font-size="6.5" text-anchor="middle"><text transform="translate(480.86 298.82) scale(.92 1)" fill="#e6f1f9">94</text><text transform="translate(492.66 298.82) scale(.92 1)" fill="#fff">15</text><text transform="translate(504.16 298.82) scale(.92 1)" fill="#edf5fb">135</text></g>
<circle cx="529.20" cy="296.37" r="11.6" fill="#69a2cb"/>
<circle cx="541.30" cy="296.37" r="11.6" fill="#97c7e5"/>
<path d="M535.25 286.47A11.6 11.6 0 0 1 535.25 306.27A11.6 11.6 0 0 1 535.25 286.47Z" fill="#4a7493"/>
<g font-size="6.5" text-anchor="middle"><text transform="translate(523.55 298.82) scale(.92 1)" fill="#e6f1f9">62</text><text transform="translate(535.35 298.82) scale(.92 1)" fill="#fff">20</text><text transform="translate(546.85 298.82) scale(.92 1)" fill="#edf5fb">130</text></g>
<circle cx="571.89" cy="296.37" r="11.6" fill="#69a2cb"/>
<circle cx="583.99" cy="296.37" r="11.6" fill="#97c7e5"/>
<path d="M577.94 286.47A11.6 11.6 0 0 1 577.94 306.27A11.6 11.6 0 0 1 577.94 286.47Z" fill="#4a7493"/>
<g font-size="6.5" text-anchor="middle"><text transform="translate(566.24 298.82) scale(.92 1)" fill="#e6f1f9">149</text><text transform="translate(578.04 298.82) scale(.92 1)" fill="#fff">1</text><text transform="translate(589.54 298.82) scale(.92 1)" fill="#edf5fb">31</text></g>
<circle cx="614.58" cy="296.37" r="11.6" fill="#69a2cb"/>
<circle cx="626.68" cy="296.37" r="11.6" fill="#97c7e5"/>
<path d="M620.63 286.47A11.6 11.6 0 0 1 620.63 306.27A11.6 11.6 0 0 1 620.63 286.47Z" fill="#4a7493"/>
<g font-size="6.5" text-anchor="middle"><text transform="translate(608.93 298.82) scale(.92 1)" fill="#e6f1f9">135</text><text transform="translate(620.73 298.82) scale(.92 1)" fill="#fff">22</text><text transform="translate(632.23 298.82) scale(.92 1)" fill="#edf5fb">129</text></g>
<circle cx="657.27" cy="296.37" r="11.6" fill="#69a2cb"/>
<circle cx="669.37" cy="296.37" r="11.6" fill="#97c7e5"/>
<path d="M663.32 286.47A11.6 11.6 0 0 1 663.32 306.27A11.6 11.6 0 0 1 663.32 286.47Z" fill="#4a7493"/>
<g font-size="6.5" text-anchor="middle"><text transform="translate(651.62 298.82) scale(.92 1)" fill="#e6f1f9">25</text><text transform="translate(663.42 298.82) scale(.92 1)" fill="#fff">15</text><text transform="translate(674.92 298.82) scale(.92 1)" fill="#edf5fb">135</text></g>
<circle cx="401.13" cy="338.54" r="11.6" fill="#69a2cb"/>
<circle cx="413.23" cy="338.54" r="11.6" fill="#97c7e5"/>
<path d="M407.18 328.64A11.6 11.6 0 0 1 407.18 348.44A11.6 11.6 0 0 1 407.18 328.64Z" fill="#4a7493"/>
<g font-size="6.5" text-anchor="middle"><text transform="translate(395.48 340.99) scale(.92 1)" fill="#e6f1f9">84</text><text transform="translate(407.28 340.99) scale(.92 1)" fill="#fff">6</text><text transform="translate(418.78 340.99) scale(.92 1)" fill="#edf5fb">50</text></g>
<circle cx="443.82" cy="338.54" r="11.6" fill="#69a2cb"/>
<circle cx="455.92" cy="338.54" r="11.6" fill="#97c7e5"/>
<path d="M449.87 328.64A11.6 11.6 0 0 1 449.87 348.44A11.6 11.6 0 0 1 449.87 328.64Z" fill="#4a7493"/>
<g font-size="6.5" text-anchor="middle"><text transform="translate(438.17 340.99) scale(.92 1)" fill="#e6f1f9">43</text><text transform="translate(449.97 340.99) scale(.92 1)" fill="#fff">48</text><text transform="translate(461.47 340.99) scale(.92 1)" fill="#edf5fb">200</text></g>
<circle cx="486.51" cy="338.54" r="11.6" fill="#69a2cb"/>
<circle cx="498.61" cy="338.54" r="11.6" fill="#97c7e5"/>
<path d="M492.56 328.64A11.6 11.6 0 0 1 492.56 348.44A11.6 11.6 0 0 1 492.56 328.64Z" fill="#4a7493"/>
<g font-size="6.5" text-anchor="middle"><text transform="translate(480.86 340.99) scale(.92 1)" fill="#e6f1f9">74</text><text transform="translate(492.66 340.99) scale(.92 1)" fill="#fff">16</text><text transform="translate(504.16 340.99) scale(.92 1)" fill="#edf5fb">93</text></g>
<circle cx="529.20" cy="338.54" r="11.6" fill="#69a2cb"/>
<circle cx="541.30" cy="338.54" r="11.6" fill="#97c7e5"/>
<path d="M535.25 328.64A11.6 11.6 0 0 1 535.25 348.44A11.6 11.6 0 0 1 535.25 328.64Z" fill="#4a7493"/>
<g font-size="6.5" text-anchor="middle"><text transform="translate(523.55 340.99) scale(.92 1)" fill="#e6f1f9">65</text><text transform="translate(535.35 340.99) scale(.92 1)" fill="#fff">25</text><text transform="translate(546.85 340.99) scale(.92 1)" fill="#edf5fb">57</text></g>
<circle cx="571.89" cy="338.54" r="11.6" fill="#69a2cb"/>
<circle cx="583.99" cy="338.54" r="11.6" fill="#97c7e5"/>
<path d="M577.94 328.64A11.6 11.6 0 0 1 577.94 348.44A11.6 11.6 0 0 1 577.94 328.64Z" fill="#4a7493"/>
<g font-size="6.5" text-anchor="middle"><text transform="translate(566.24 340.99) scale(.92 1)" fill="#e6f1f9">70</text><text transform="translate(578.04 340.99) scale(.92 1)" fill="#fff">20</text><text transform="translate(589.54 340.99) scale(.92 1)" fill="#edf5fb">44</text></g>
<circle cx="614.58" cy="338.54" r="11.6" fill="#69a2cb"/>
<circle cx="626.68" cy="338.54" r="11.6" fill="#97c7e5"/>
<path d="M620.63 328.64A11.6 11.6 0 0 1 620.63 348.44A11.6 11.6 0 0 1 620.63 328.64Z" fill="#4a7493"/>
<g font-size="6.5" text-anchor="middle"><text transform="translate(608.93 340.99) scale(.92 1)" fill="#e6f1f9">62</text><text transform="translate(620.73 340.99) scale(.92 1)" fill="#fff">29</text><text transform="translate(632.23 340.99) scale(.92 1)" fill="#edf5fb">128</text></g>
<circle cx="657.27" cy="338.54" r="11.6" fill="#69a2cb"/>
<circle cx="669.37" cy="338.54" r="11.6" fill="#97c7e5"/>
<path d="M663.32 328.64A11.6 11.6 0 0 1 663.32 348.44A11.6 11.6 0 0 1 663.32 328.64Z" fill="#4a7493"/>
<g font-size="6.5" text-anchor="middle"><text transform="translate(651.62 340.99) scale(.92 1)" fill="#e6f1f9">74</text><text transform="translate(663.42 340.99) scale(.92 1)" fill="#fff">17</text><text transform="translate(674.92 340.99) scale(.92 1)" fill="#edf5fb">24</text></g>
<circle cx="443.82" cy="380.71" r="11.6" fill="#69a2cb"/>
<circle cx="455.92" cy="380.71" r="11.6" fill="#97c7e5"/>
<path d="M449.87 370.81A11.6 11.6 0 0 1 449.87 390.61A11.6 11.6 0 0 1 449.87 370.81Z" fill="#4a7493"/>
<g font-size="6.5" text-anchor="middle"><text transform="translate(438.17 383.16) scale(.92 1)" fill="#e6f1f9">22</text><text transform="translate(449.97 383.16) scale(.92 1)" fill="#fff">35</text><text transform="translate(461.47 383.16) scale(.92 1)" fill="#edf5fb">213</text></g>
<circle cx="486.51" cy="380.71" r="11.6" fill="#69a2cb"/>
<circle cx="498.61" cy="380.71" r="11.6" fill="#97c7e5"/>
<path d="M492.56 370.81A11.6 11.6 0 0 1 492.56 390.61A11.6 11.6 0 0 1 492.56 370.81Z" fill="#4a7493"/>
<g font-size="6.5" text-anchor="middle"><text transform="translate(480.86 383.16) scale(.92 1)" fill="#e6f1f9">32</text><text transform="translate(492.66 383.16) scale(.92 1)" fill="#fff">25</text><text transform="translate(504.16 383.16) scale(.92 1)" fill="#edf5fb">84</text></g>
<circle cx="529.20" cy="380.71" r="11.6" fill="#69a2cb"/>
<circle cx="541.30" cy="380.71" r="11.6" fill="#97c7e5"/>
<path d="M535.25 370.81A11.6 11.6 0 0 1 535.25 390.61A11.6 11.6 0 0 1 535.25 370.81Z" fill="#4a7493"/>
<g font-size="6.5" text-anchor="middle"><text transform="translate(523.55 383.16) scale(.92 1)" fill="#e6f1f9">41</text><text transform="translate(535.35 383.16) scale(.92 1)" fill="#fff">15</text><text transform="translate(546.85 383.16) scale(.92 1)" fill="#edf5fb">67</text></g>
<circle cx="571.89" cy="380.71" r="11.6" fill="#69a2cb"/>
<circle cx="583.99" cy="380.71" r="11.6" fill="#97c7e5"/>
<path d="M577.94 370.81A11.6 11.6 0 0 1 577.94 390.61A11.6 11.6 0 0 1 577.94 370.81Z" fill="#4a7493"/>
<g font-size="6.5" text-anchor="middle"><text transform="translate(566.24 383.16) scale(.92 1)" fill="#e6f1f9">50</text><text transform="translate(578.04 383.16) scale(.92 1)" fill="#fff">7</text><text transform="translate(589.54 383.16) scale(.92 1)" fill="#edf5fb">58</text></g>
<circle cx="614.58" cy="380.71" r="11.6" fill="#69a2cb"/>
<circle cx="626.68" cy="380.71" r="11.6" fill="#97c7e5"/>
<path d="M620.63 370.81A11.6 11.6 0 0 1 620.63 390.61A11.6 11.6 0 0 1 620.63 370.81Z" fill="#4a7493"/>
<g font-size="6.5" text-anchor="middle"><text transform="translate(608.93 383.16) scale(.92 1)" fill="#e6f1f9">53</text><text transform="translate(620.73 383.16) scale(.92 1)" fill="#fff">4</text><text transform="translate(632.23 383.16) scale(.92 1)" fill="#edf5fb">153</text></g>
<circle cx="657.27" cy="380.71" r="11.6" fill="#69a2cb"/>
<circle cx="669.37" cy="380.71" r="11.6" fill="#97c7e5"/>
<path d="M663.32 370.81A11.6 11.6 0 0 1 663.32 390.61A11.6 11.6 0 0 1 663.32 370.81Z" fill="#4a7493"/>
<g font-size="6.5" text-anchor="middle"><text transform="translate(651.62 383.16) scale(.92 1)" fill="#e6f1f9">52</text><text transform="translate(663.42 383.16) scale(.92 1)" fill="#fff">4</text><text transform="translate(674.92 383.16) scale(.92 1)" fill="#edf5fb">37</text></g>
<circle cx="486.51" cy="422.88" r="11.6" fill="#69a2cb"/>
<circle cx="498.61" cy="422.88" r="11.6" fill="#97c7e5"/>
<path d="M492.56 412.98A11.6 11.6 0 0 1 492.56 432.78A11.6 11.6 0 0 1 492.56 412.98Z" fill="#4a7493"/>
<g font-size="6.5" text-anchor="middle"><text transform="translate(480.86 425.33) scale(.92 1)" fill="#e6f1f9">49</text><text transform="translate(492.66 425.33) scale(.92 1)" fill="#fff">61</text><text transform="translate(504.16 425.33) scale(.92 1)" fill="#edf5fb">187</text></g>
<circle cx="529.20" cy="422.88" r="11.6" fill="#69a2cb"/>
<circle cx="541.30" cy="422.88" r="11.6" fill="#97c7e5"/>
<path d="M535.25 412.98A11.6 11.6 0 0 1 535.25 432.78A11.6 11.6 0 0 1 535.25 412.98Z" fill="#4a7493"/>
<g font-size="6.5" text-anchor="middle"><text transform="translate(523.55 425.33) scale(.92 1)" fill="#e6f1f9">26</text><text transform="translate(535.35 425.33) scale(.92 1)" fill="#fff">56</text><text transform="translate(546.85 425.33) scale(.92 1)" fill="#edf5fb">192</text></g>
<circle cx="571.89" cy="422.88" r="11.6" fill="#69a2cb"/>
<circle cx="583.99" cy="422.88" r="11.6" fill="#97c7e5"/>
<path d="M577.94 412.98A11.6 11.6 0 0 1 577.94 432.78A11.6 11.6 0 0 1 577.94 412.98Z" fill="#4a7493"/>
<g font-size="6.5" text-anchor="middle"><text transform="translate(566.24 425.33) scale(.92 1)" fill="#e6f1f9">246</text><text transform="translate(578.04 425.33) scale(.92 1)" fill="#fff">2</text><text transform="translate(589.54 425.33) scale(.92 1)" fill="#edf5fb">29</text></g>
<circle cx="614.58" cy="422.88" r="11.6" fill="#69a2cb"/>
<circle cx="626.68" cy="422.88" r="11.6" fill="#97c7e5"/>
<path d="M620.63 412.98A11.6 11.6 0 0 1 620.63 432.78A11.6 11.6 0 0 1 620.63 412.98Z" fill="#4a7493"/>
<g font-size="6.5" text-anchor="middle"><text transform="translate(608.93 425.33) scale(.92 1)" fill="#e6f1f9">121</text><text transform="translate(620.73 425.33) scale(.92 1)" fill="#fff">36</text><text transform="translate(632.23 425.33) scale(.92 1)" fill="#edf5fb">212</text></g>
<circle cx="657.27" cy="422.88" r="11.6" fill="#69a2cb"/>
<circle cx="669.37" cy="422.88" r="11.6" fill="#97c7e5"/>
<path d="M663.32 412.98A11.6 11.6 0 0 1 663.32 432.78A11.6 11.6 0 0 1 663.32 412.98Z" fill="#4a7493"/>
<g font-size="6.5" text-anchor="middle"><text transform="translate(651.62 425.33) scale(.92 1)" fill="#e6f1f9">17</text><text transform="translate(663.42 425.33) scale(.92 1)" fill="#fff">24</text><text transform="translate(674.92 425.33) scale(.92 1)" fill="#edf5fb">224</text></g>
<circle cx="529.20" cy="465.05" r="11.6" fill="#69a2cb"/>
<circle cx="541.30" cy="465.05" r="11.6" fill="#97c7e5"/>
<path d="M535.25 455.15A11.6 11.6 0 0 1 535.25 474.95A11.6 11.6 0 0 1 535.25 455.15Z" fill="#4a7493"/>
<g font-size="6.5" text-anchor="middle"><text transform="translate(523.55 467.50) scale(.92 1)" fill="#e6f1f9">83</text><text transform="translate(535.35 467.50) scale(.92 1)" fill="#fff">26</text><text transform="translate(546.85 467.50) scale(.92 1)" fill="#edf5fb">56</text></g>
<circle cx="571.89" cy="465.05" r="11.6" fill="#69a2cb"/>
<circle cx="583.99" cy="465.05" r="11.6" fill="#97c7e5"/>
<path d="M577.94 455.15A11.6 11.6 0 0 1 577.94 474.95A11.6 11.6 0 0 1 577.94 455.15Z" fill="#4a7493"/>
<g font-size="6.5" text-anchor="middle"><text transform="translate(566.24 467.50) scale(.92 1)" fill="#e6f1f9">93</text><text transform="translate(578.04 467.50) scale(.92 1)" fill="#fff">16</text><text transform="translate(589.54 467.50) scale(.92 1)" fill="#edf5fb">48</text></g>
<circle cx="614.58" cy="465.05" r="11.6" fill="#69a2cb"/>
<circle cx="626.68" cy="465.05" r="11.6" fill="#97c7e5"/>
<path d="M620.63 455.15A11.6 11.6 0 0 1 620.63 474.95A11.6 11.6 0 0 1 620.63 455.15Z" fill="#4a7493"/>
<g font-size="6.5" text-anchor="middle"><text transform="translate(608.93 467.50) scale(.92 1)" fill="#e6f1f9">98</text><text transform="translate(620.73 467.50) scale(.92 1)" fill="#fff">11</text><text transform="translate(632.23 467.50) scale(.92 1)" fill="#edf5fb">146</text></g>
<circle cx="657.27" cy="465.05" r="11.6" fill="#69a2cb"/>
<circle cx="669.37" cy="465.05" r="11.6" fill="#97c7e5"/>
<path d="M663.32 455.15A11.6 11.6 0 0 1 663.32 474.95A11.6 11.6 0 0 1 663.32 455.15Z" fill="#4a7493"/>
<g font-size="6.5" text-anchor="middle"><text transform="translate(651.62 467.50) scale(.92 1)" fill="#e6f1f9">100</text><text transform="translate(663.42 467.50) scale(.92 1)" fill="#fff">10</text><text transform="translate(674.92 467.50) scale(.92 1)" fill="#edf5fb">31</text></g>
<circle cx="571.89" cy="507.22" r="11.6" fill="#69a2cb"/>
<circle cx="583.99" cy="507.22" r="11.6" fill="#97c7e5"/>
<path d="M577.94 497.32A11.6 11.6 0 0 1 577.94 517.12A11.6 11.6 0 0 1 577.94 497.32Z" fill="#4a7493"/>
<g font-size="6.5" text-anchor="middle"><text transform="translate(566.24 509.67) scale(.92 1)" fill="#e6f1f9">61</text><text transform="translate(578.04 509.67) scale(.92 1)" fill="#fff">21</text><text transform="translate(589.54 509.67) scale(.92 1)" fill="#edf5fb">44</text></g>
<circle cx="614.58" cy="507.22" r="11.6" fill="#69a2cb"/>
<circle cx="626.68" cy="507.22" r="11.6" fill="#97c7e5"/>
<path d="M620.63 497.32A11.6 11.6 0 0 1 620.63 517.12A11.6 11.6 0 0 1 620.63 497.32Z" fill="#4a7493"/>
<g font-size="6.5" text-anchor="middle"><text transform="translate(608.93 509.67) scale(.92 1)" fill="#e6f1f9">64</text><text transform="translate(620.73 509.67) scale(.92 1)" fill="#fff">18</text><text transform="translate(632.23 509.67) scale(.92 1)" fill="#edf5fb">139</text></g>
<circle cx="657.27" cy="507.22" r="11.6" fill="#69a2cb"/>
<circle cx="669.37" cy="507.22" r="11.6" fill="#97c7e5"/>
<path d="M663.32 497.32A11.6 11.6 0 0 1 663.32 517.12A11.6 11.6 0 0 1 663.32 497.32Z" fill="#4a7493"/>
<g font-size="6.5" text-anchor="middle"><text transform="translate(651.62 509.67) scale(.92 1)" fill="#e6f1f9">68</text><text transform="translate(663.42 509.67) scale(.92 1)" fill="#fff">14</text><text transform="translate(674.92 509.67) scale(.92 1)" fill="#edf5fb">27</text></g>
<circle cx="614.58" cy="549.39" r="11.6" fill="#69a2cb"/>
<circle cx="626.68" cy="549.39" r="11.6" fill="#97c7e5"/>
<path d="M620.63 539.49A11.6 11.6 0 0 1 620.63 559.29A11.6 11.6 0 0 1 620.63 539.49Z" fill="#4a7493"/>
<g font-size="6.5" text-anchor="middle"><text transform="translate(608.93 551.84) scale(.92 1)" fill="#e6f1f9">141</text><text transform="translate(620.73 551.84) scale(.92 1)" fill="#fff">16</text><text transform="translate(632.23 551.84) scale(.92 1)" fill="#edf5fb">49</text></g>
<circle cx="657.27" cy="549.39" r="11.6" fill="#69a2cb"/>
<circle cx="669.37" cy="549.39" r="11.6" fill="#97c7e5"/>
<path d="M663.32 539.49A11.6 11.6 0 0 1 663.32 559.29A11.6 11.6 0 0 1 663.32 539.49Z" fill="#4a7493"/>
<g font-size="6.5" text-anchor="middle"><text transform="translate(651.62 551.84) scale(.92 1)" fill="#e6f1f9">27</text><text transform="translate(663.42 551.84) scale(.92 1)" fill="#fff">14</text><text transform="translate(674.92 551.84) scale(.92 1)" fill="#edf5fb">51</text></g>
<circle cx="657.27" cy="591.56" r="11.6" fill="#69a2cb"/>
<circle cx="669.37" cy="591.56" r="11.6" fill="#97c7e5"/>
<path d="M663.32 581.66A11.6 11.6 0 0 1 663.32 601.46A11.6 11.6 0 0 1 663.32 581.66Z" fill="#4a7493"/>
<g font-size="6.5" text-anchor="middle"><text transform="translate(651.62 594.01) scale(.92 1)" fill="#e6f1f9">146</text><text transform="translate(663.42 594.01) scale(.92 1)" fill="#fff">11</text><text transform="translate(674.92 594.01) scale(.92 1)" fill="#edf5fb">29</text></g>
<rect x="47.36" y="69.55" width="35.1" height="31.5" fill="#fff" stroke="#949494" stroke-width="0.75"/>
<rect x="48.61" y="94.44" width="10.8" height="6.61" fill="#4a7190" stroke="#27425a" stroke-width="0.7"/>
<rect x="59.41" y="95.69" width="10.8" height="5.36" fill="#6ea6d0" stroke="#3d76a3" stroke-width="0.7"/>
<rect x="70.21" y="97.58" width="10.8" height="3.46" fill="#9bc9e8" stroke="#5a93bd" stroke-width="0.7"/>
<rect x="47.36" y="111.75" width="35.1" height="31.5" fill="#fff" stroke="#949494" stroke-width="0.75"/>
<rect x="48.61" y="136.63" width="10.8" height="6.61" fill="#4a7190" stroke="#27425a" stroke-width="0.7"/>
<rect x="59.41" y="138.21" width="10.8" height="5.04" fill="#6ea6d0" stroke="#3d76a3" stroke-width="0.7"/>
<rect x="70.21" y="142.31" width="10.8" height="0.94" fill="#9bc9e8" stroke="#5a93bd" stroke-width="0.7"/>
<rect x="90.08" y="111.75" width="35.1" height="31.5" fill="#fff" stroke="#949494" stroke-width="0.75"/>
<rect x="91.33" y="138.84" width="10.8" height="4.41" fill="#4a7190" stroke="#27425a" stroke-width="0.7"/>
<rect x="102.13" y="139.47" width="10.8" height="3.78" fill="#6ea6d0" stroke="#3d76a3" stroke-width="0.7"/>
<rect x="112.93" y="141.52" width="10.8" height="1.73" fill="#9bc9e8" stroke="#5a93bd" stroke-width="0.7"/>
<rect x="47.36" y="153.95" width="35.1" height="31.5" fill="#fff" stroke="#949494" stroke-width="0.75"/>
<rect x="48.61" y="177.57" width="10.8" height="7.88" fill="#4a7190" stroke="#27425a" stroke-width="0.7"/>
<rect x="59.41" y="180.41" width="10.8" height="5.04" fill="#6ea6d0" stroke="#3d76a3" stroke-width="0.7"/>
<rect x="70.21" y="181.67" width="10.8" height="3.78" fill="#9bc9e8" stroke="#5a93bd" stroke-width="0.7"/>
<rect x="90.08" y="153.95" width="35.1" height="31.5" fill="#fff" stroke="#949494" stroke-width="0.75"/>
<rect x="91.33" y="174.42" width="10.8" height="11.02" fill="#4a7190" stroke="#27425a" stroke-width="0.7"/>
<rect x="102.13" y="183.56" width="10.8" height="1.89" fill="#6ea6d0" stroke="#3d76a3" stroke-width="0.7"/>
<rect x="112.93" y="182.61" width="10.8" height="2.83" fill="#9bc9e8" stroke="#5a93bd" stroke-width="0.7"/>
<rect x="132.80" y="153.95" width="35.1" height="31.5" fill="#fff" stroke="#949494" stroke-width="0.75"/>
<rect x="134.05" y="180.09" width="10.8" height="5.36" fill="#4a7190" stroke="#27425a" stroke-width="0.7"/>
<rect x="144.85" y="184.50" width="10.8" height="0.94" fill="#6ea6d0" stroke="#3d76a3" stroke-width="0.7"/>
<rect x="155.65" y="180.72" width="10.8" height="4.72" fill="#9bc9e8" stroke="#5a93bd" stroke-width="0.7"/>
<rect x="47.36" y="195.90" width="35.1" height="31.5" fill="#fff" stroke="#949494" stroke-width="0.75"/>
<rect x="48.61" y="220.16" width="10.8" height="7.25" fill="#4a7190" stroke="#27425a" stroke-width="0.7"/>
<rect x="59.41" y="222.05" width="10.8" height="5.36" fill="#6ea6d0" stroke="#3d76a3" stroke-width="0.7"/>
<rect x="70.21" y="225.67" width="10.8" height="1.73" fill="#9bc9e8" stroke="#5a93bd" stroke-width="0.7"/>
<rect x="90.08" y="195.90" width="35.1" height="31.5" fill="#fff" stroke="#949494" stroke-width="0.75"/>
<rect x="91.33" y="220.78" width="10.8" height="6.61" fill="#4a7190" stroke="#27425a" stroke-width="0.7"/>
<rect x="102.13" y="224.25" width="10.8" height="3.15" fill="#6ea6d0" stroke="#3d76a3" stroke-width="0.7"/>
<rect x="112.93" y="225.51" width="10.8" height="1.89" fill="#9bc9e8" stroke="#5a93bd" stroke-width="0.7"/>
<rect x="132.80" y="195.90" width="35.1" height="31.5" fill="#fff" stroke="#949494" stroke-width="0.75"/>
<rect x="134.05" y="223.15" width="10.8" height="4.25" fill="#4a7190" stroke="#27425a" stroke-width="0.7"/>
<rect x="144.85" y="226.46" width="10.8" height="0.94" fill="#6ea6d0" stroke="#3d76a3" stroke-width="0.7"/>
<rect x="155.65" y="225.51" width="10.8" height="1.89" fill="#9bc9e8" stroke="#5a93bd" stroke-width="0.7"/>
<rect x="175.52" y="195.90" width="35.1" height="31.5" fill="#fff" stroke="#949494" stroke-width="0.75"/>
<rect x="176.77" y="221.73" width="10.8" height="5.67" fill="#4a7190" stroke="#27425a" stroke-width="0.7"/>
<rect x="187.57" y="222.99" width="10.8" height="4.41" fill="#6ea6d0" stroke="#3d76a3" stroke-width="0.7"/>
<rect x="198.37" y="225.19" width="10.8" height="2.21" fill="#9bc9e8" stroke="#5a93bd" stroke-width="0.7"/>
<rect x="47.36" y="238.10" width="35.1" height="31.5" fill="#fff" stroke="#949494" stroke-width="0.75"/>
<rect x="48.61" y="260.78" width="10.8" height="8.82" fill="#4a7190" stroke="#27425a" stroke-width="0.7"/>
<rect x="59.41" y="265.19" width="10.8" height="4.41" fill="#6ea6d0" stroke="#3d76a3" stroke-width="0.7"/>
<rect x="70.21" y="264.25" width="10.8" height="5.36" fill="#9bc9e8" stroke="#5a93bd" stroke-width="0.7"/>
<rect x="90.08" y="238.10" width="35.1" height="31.5" fill="#fff" stroke="#949494" stroke-width="0.75"/>
<rect x="91.33" y="259.52" width="10.8" height="10.08" fill="#4a7190" stroke="#27425a" stroke-width="0.7"/>
<rect x="102.13" y="268.34" width="10.8" height="1.26" fill="#6ea6d0" stroke="#3d76a3" stroke-width="0.7"/>
<rect x="112.93" y="265.19" width="10.8" height="4.41" fill="#9bc9e8" stroke="#5a93bd" stroke-width="0.7"/>
<rect x="132.80" y="238.10" width="35.1" height="31.5" fill="#fff" stroke="#949494" stroke-width="0.75"/>
<rect x="134.05" y="262.99" width="10.8" height="6.61" fill="#4a7190" stroke="#27425a" stroke-width="0.7"/>
<rect x="144.85" y="268.97" width="10.8" height="0.63" fill="#6ea6d0" stroke="#3d76a3" stroke-width="0.7"/>
<rect x="155.65" y="264.09" width="10.8" height="5.51" fill="#9bc9e8" stroke="#5a93bd" stroke-width="0.7"/>
<rect x="175.52" y="238.10" width="35.1" height="31.5" fill="#fff" stroke="#949494" stroke-width="0.75"/>
<rect x="176.77" y="260.47" width="10.8" height="9.13" fill="#4a7190" stroke="#27425a" stroke-width="0.7"/>
<rect x="187.57" y="267.08" width="10.8" height="2.52" fill="#6ea6d0" stroke="#3d76a3" stroke-width="0.7"/>
<rect x="198.37" y="264.88" width="10.8" height="4.72" fill="#9bc9e8" stroke="#5a93bd" stroke-width="0.7"/>
<rect x="218.24" y="238.10" width="35.1" height="31.5" fill="#fff" stroke="#e79aa3" stroke-width="0.75"/>
<rect x="219.49" y="255.11" width="10.8" height="14.49" fill="#4a7190" stroke="#27425a" stroke-width="0.7"/>
<rect x="230.29" y="268.97" width="10.8" height="0.63" fill="#6ea6d0" stroke="#3d76a3" stroke-width="0.7"/>
<rect x="241.09" y="266.14" width="10.8" height="3.46" fill="#9bc9e8" stroke="#5a93bd" stroke-width="0.7"/>
<text transform="translate(222.94 245.70) scale(0.9 1)" font-size="8.6" fill="#c0283c">2 x 10<tspan font-size="5.0" dy="-3.4">-8</tspan></text>
<rect x="47.36" y="280.55" width="35.1" height="31.5" fill="#fff" stroke="#949494" stroke-width="0.75"/>
<rect x="48.61" y="299.45" width="10.8" height="12.60" fill="#4a7190" stroke="#27425a" stroke-width="0.7"/>
<rect x="59.41" y="308.59" width="10.8" height="3.46" fill="#6ea6d0" stroke="#3d76a3" stroke-width="0.7"/>
<rect x="70.21" y="304.81" width="10.8" height="7.25" fill="#9bc9e8" stroke="#5a93bd" stroke-width="0.7"/>
<rect x="90.08" y="280.55" width="35.1" height="31.5" fill="#fff" stroke="#e79aa3" stroke-width="0.75"/>
<rect x="91.33" y="295.99" width="10.8" height="16.07" fill="#4a7190" stroke="#27425a" stroke-width="0.7"/>
<rect x="102.13" y="310.79" width="10.8" height="1.26" fill="#6ea6d0" stroke="#3d76a3" stroke-width="0.7"/>
<rect x="112.93" y="305.44" width="10.8" height="6.61" fill="#9bc9e8" stroke="#5a93bd" stroke-width="0.7"/>
<text transform="translate(93.78 288.70) scale(0.9 1)" font-size="8.6" fill="#c0283c">5 x 10<tspan font-size="5.0" dy="-3.4">-5</tspan></text>
<rect x="132.80" y="280.55" width="35.1" height="31.5" fill="#fff" stroke="#e79aa3" stroke-width="0.75"/>
<rect x="134.05" y="290.00" width="10.8" height="22.05" fill="#4a7190" stroke="#27425a" stroke-width="0.7"/>
<rect x="144.85" y="311.58" width="10.8" height="0.47" fill="#6ea6d0" stroke="#3d76a3" stroke-width="0.7"/>
<rect x="155.65" y="306.38" width="10.8" height="5.67" fill="#9bc9e8" stroke="#5a93bd" stroke-width="0.7"/>
<text transform="translate(136.00 286.35) scale(0.9 1)" font-size="8.6" fill="#c0283c">4 x 10<tspan font-size="5.0" dy="-3.4">-15</tspan></text>
<rect x="175.52" y="280.55" width="35.1" height="31.5" fill="#fff" stroke="#949494" stroke-width="0.75"/>
<rect x="176.77" y="297.25" width="10.8" height="14.80" fill="#4a7190" stroke="#27425a" stroke-width="0.7"/>
<rect x="187.57" y="310.48" width="10.8" height="1.58" fill="#6ea6d0" stroke="#3d76a3" stroke-width="0.7"/>
<rect x="198.37" y="305.44" width="10.8" height="6.61" fill="#9bc9e8" stroke="#5a93bd" stroke-width="0.7"/>
<rect x="218.24" y="280.55" width="35.1" height="31.5" fill="#fff" stroke="#e79aa3" stroke-width="0.75"/>
<rect x="219.49" y="281.50" width="10.8" height="30.55" fill="#4a7190" stroke="#27425a" stroke-width="0.7"/>
<rect x="230.29" y="311.74" width="10.8" height="0.32" fill="#6ea6d0" stroke="#3d76a3" stroke-width="0.7"/>
<rect x="241.09" y="306.54" width="10.8" height="5.51" fill="#9bc9e8" stroke="#5a93bd" stroke-width="0.7"/>
<text transform="translate(222.24 288.45) scale(0.9 1)" font-size="8.6" fill="#c0283c">1 x 10<tspan font-size="5.0" dy="-3.4">-25</tspan></text>
<rect x="260.96" y="280.55" width="35.1" height="31.5" fill="#fff" stroke="#e79aa3" stroke-width="0.75"/>
<rect x="262.21" y="295.04" width="10.8" height="17.01" fill="#4a7190" stroke="#27425a" stroke-width="0.7"/>
<rect x="273.01" y="311.58" width="10.8" height="0.47" fill="#6ea6d0" stroke="#3d76a3" stroke-width="0.7"/>
<rect x="283.81" y="309.53" width="10.8" height="2.52" fill="#9bc9e8" stroke="#5a93bd" stroke-width="0.7"/>
<text transform="translate(264.46 288.75) scale(0.9 1)" font-size="8.6" fill="#c0283c">2 x 10<tspan font-size="5.0" dy="-3.4">-14</tspan></text>
<rect x="47.36" y="322.75" width="35.1" height="31.5" fill="#fff" stroke="#949494" stroke-width="0.75"/>
<rect x="48.61" y="342.28" width="10.8" height="11.97" fill="#4a7190" stroke="#27425a" stroke-width="0.7"/>
<rect x="59.41" y="347.32" width="10.8" height="6.93" fill="#6ea6d0" stroke="#3d76a3" stroke-width="0.7"/>
<rect x="70.21" y="349.21" width="10.8" height="5.04" fill="#9bc9e8" stroke="#5a93bd" stroke-width="0.7"/>
<rect x="90.08" y="322.75" width="35.1" height="31.5" fill="#fff" stroke="#949494" stroke-width="0.75"/>
<rect x="91.33" y="340.07" width="10.8" height="14.18" fill="#4a7190" stroke="#27425a" stroke-width="0.7"/>
<rect x="102.13" y="349.21" width="10.8" height="5.04" fill="#6ea6d0" stroke="#3d76a3" stroke-width="0.7"/>
<rect x="112.93" y="352.36" width="10.8" height="1.89" fill="#9bc9e8" stroke="#5a93bd" stroke-width="0.7"/>
<rect x="132.80" y="322.75" width="35.1" height="31.5" fill="#fff" stroke="#949494" stroke-width="0.75"/>
<rect x="134.05" y="344.49" width="10.8" height="9.77" fill="#4a7190" stroke="#27425a" stroke-width="0.7"/>
<rect x="144.85" y="347.95" width="10.8" height="6.30" fill="#6ea6d0" stroke="#3d76a3" stroke-width="0.7"/>
<rect x="155.65" y="353.31" width="10.8" height="0.94" fill="#9bc9e8" stroke="#5a93bd" stroke-width="0.7"/>
<rect x="175.52" y="322.75" width="35.1" height="31.5" fill="#fff" stroke="#949494" stroke-width="0.75"/>
<rect x="176.77" y="340.39" width="10.8" height="13.86" fill="#4a7190" stroke="#27425a" stroke-width="0.7"/>
<rect x="187.57" y="348.58" width="10.8" height="5.67" fill="#6ea6d0" stroke="#3d76a3" stroke-width="0.7"/>
<rect x="198.37" y="351.26" width="10.8" height="2.99" fill="#9bc9e8" stroke="#5a93bd" stroke-width="0.7"/>
<rect x="218.24" y="322.75" width="35.1" height="31.5" fill="#fff" stroke="#949494" stroke-width="0.75"/>
<rect x="219.49" y="342.28" width="10.8" height="11.97" fill="#4a7190" stroke="#27425a" stroke-width="0.7"/>
<rect x="230.29" y="348.26" width="10.8" height="5.99" fill="#6ea6d0" stroke="#3d76a3" stroke-width="0.7"/>
<rect x="241.09" y="352.52" width="10.8" height="1.73" fill="#9bc9e8" stroke="#5a93bd" stroke-width="0.7"/>
<rect x="260.96" y="322.75" width="35.1" height="31.5" fill="#fff" stroke="#949494" stroke-width="0.75"/>
<rect x="262.21" y="342.91" width="10.8" height="11.34" fill="#4a7190" stroke="#27425a" stroke-width="0.7"/>
<rect x="273.01" y="351.42" width="10.8" height="2.83" fill="#6ea6d0" stroke="#3d76a3" stroke-width="0.7"/>
<rect x="283.81" y="350.47" width="10.8" height="3.78" fill="#9bc9e8" stroke="#5a93bd" stroke-width="0.7"/>
<rect x="303.68" y="322.75" width="35.1" height="31.5" fill="#fff" stroke="#e79aa3" stroke-width="0.75"/>
<rect x="304.93" y="334.40" width="10.8" height="19.84" fill="#4a7190" stroke="#27425a" stroke-width="0.7"/>
<rect x="315.73" y="351.42" width="10.8" height="2.83" fill="#6ea6d0" stroke="#3d76a3" stroke-width="0.7"/>
<rect x="326.53" y="347.63" width="10.8" height="6.61" fill="#9bc9e8" stroke="#5a93bd" stroke-width="0.7"/>
<text transform="translate(309.23 329.45) scale(0.9 1)" font-size="8.6" fill="#c0283c">5 x 10<tspan font-size="5.0" dy="-3.4">-8</tspan></text>
<rect x="47.36" y="364.95" width="35.1" height="31.5" fill="#fff" stroke="#949494" stroke-width="0.75"/>
<rect x="48.61" y="393.30" width="10.8" height="3.15" fill="#4a7190" stroke="#27425a" stroke-width="0.7"/>
<rect x="59.41" y="390.15" width="10.8" height="6.30" fill="#6ea6d0" stroke="#3d76a3" stroke-width="0.7"/>
<rect x="70.21" y="390.47" width="10.8" height="5.99" fill="#9bc9e8" stroke="#5a93bd" stroke-width="0.7"/>
<rect x="90.08" y="364.95" width="35.1" height="31.5" fill="#fff" stroke="#949494" stroke-width="0.75"/>
<rect x="91.33" y="392.36" width="10.8" height="4.09" fill="#4a7190" stroke="#27425a" stroke-width="0.7"/>
<rect x="102.13" y="390.47" width="10.8" height="5.99" fill="#6ea6d0" stroke="#3d76a3" stroke-width="0.7"/>
<rect x="112.93" y="392.67" width="10.8" height="3.78" fill="#9bc9e8" stroke="#5a93bd" stroke-width="0.7"/>
<rect x="132.80" y="364.95" width="35.1" height="31.5" fill="#fff" stroke="#949494" stroke-width="0.75"/>
<rect x="134.05" y="393.30" width="10.8" height="3.15" fill="#4a7190" stroke="#27425a" stroke-width="0.7"/>
<rect x="144.85" y="388.26" width="10.8" height="8.19" fill="#6ea6d0" stroke="#3d76a3" stroke-width="0.7"/>
<rect x="155.65" y="395.19" width="10.8" height="1.26" fill="#9bc9e8" stroke="#5a93bd" stroke-width="0.7"/>
<rect x="175.52" y="364.95" width="35.1" height="31.5" fill="#fff" stroke="#949494" stroke-width="0.75"/>
<rect x="176.77" y="390.78" width="10.8" height="5.67" fill="#4a7190" stroke="#27425a" stroke-width="0.7"/>
<rect x="187.57" y="391.41" width="10.8" height="5.04" fill="#6ea6d0" stroke="#3d76a3" stroke-width="0.7"/>
<rect x="198.37" y="391.41" width="10.8" height="5.04" fill="#9bc9e8" stroke="#5a93bd" stroke-width="0.7"/>
<rect x="218.24" y="364.95" width="35.1" height="31.5" fill="#fff" stroke="#949494" stroke-width="0.75"/>
<rect x="219.49" y="392.36" width="10.8" height="4.09" fill="#4a7190" stroke="#27425a" stroke-width="0.7"/>
<rect x="230.29" y="390.15" width="10.8" height="6.30" fill="#6ea6d0" stroke="#3d76a3" stroke-width="0.7"/>
<rect x="241.09" y="394.40" width="10.8" height="2.05" fill="#9bc9e8" stroke="#5a93bd" stroke-width="0.7"/>
<rect x="260.96" y="364.95" width="35.1" height="31.5" fill="#fff" stroke="#949494" stroke-width="0.75"/>
<rect x="262.21" y="382.59" width="10.8" height="13.86" fill="#4a7190" stroke="#27425a" stroke-width="0.7"/>
<rect x="273.01" y="392.67" width="10.8" height="3.78" fill="#6ea6d0" stroke="#3d76a3" stroke-width="0.7"/>
<rect x="283.81" y="390.94" width="10.8" height="5.51" fill="#9bc9e8" stroke="#5a93bd" stroke-width="0.7"/>
<rect x="303.68" y="364.95" width="35.1" height="31.5" fill="#fff" stroke="#949494" stroke-width="0.75"/>
<rect x="304.93" y="373.77" width="10.8" height="22.68" fill="#4a7190" stroke="#27425a" stroke-width="0.7"/>
<rect x="315.73" y="392.99" width="10.8" height="3.46" fill="#6ea6d0" stroke="#3d76a3" stroke-width="0.7"/>
<rect x="326.53" y="388.10" width="10.8" height="8.35" fill="#9bc9e8" stroke="#5a93bd" stroke-width="0.7"/>
<rect x="346.40" y="364.95" width="35.1" height="31.5" fill="#fff" stroke="#949494" stroke-width="0.75"/>
<rect x="347.65" y="385.58" width="10.8" height="10.87" fill="#4a7190" stroke="#27425a" stroke-width="0.7"/>
<rect x="358.45" y="388.58" width="10.8" height="7.88" fill="#6ea6d0" stroke="#3d76a3" stroke-width="0.7"/>
<rect x="369.25" y="392.36" width="10.8" height="4.09" fill="#9bc9e8" stroke="#5a93bd" stroke-width="0.7"/>
<rect x="47.36" y="407.15" width="35.1" height="31.5" fill="#fff" stroke="#949494" stroke-width="0.75"/>
<rect x="48.61" y="430.78" width="10.8" height="7.88" fill="#4a7190" stroke="#27425a" stroke-width="0.7"/>
<rect x="59.41" y="434.40" width="10.8" height="4.25" fill="#6ea6d0" stroke="#3d76a3" stroke-width="0.7"/>
<rect x="70.21" y="433.61" width="10.8" height="5.04" fill="#9bc9e8" stroke="#5a93bd" stroke-width="0.7"/>
<rect x="90.08" y="407.15" width="35.1" height="31.5" fill="#fff" stroke="#949494" stroke-width="0.75"/>
<rect x="91.33" y="430.78" width="10.8" height="7.88" fill="#4a7190" stroke="#27425a" stroke-width="0.7"/>
<rect x="102.13" y="436.76" width="10.8" height="1.89" fill="#6ea6d0" stroke="#3d76a3" stroke-width="0.7"/>
<rect x="112.93" y="433.93" width="10.8" height="4.72" fill="#9bc9e8" stroke="#5a93bd" stroke-width="0.7"/>
<rect x="132.80" y="407.15" width="35.1" height="31.5" fill="#fff" stroke="#949494" stroke-width="0.75"/>
<rect x="134.05" y="434.24" width="10.8" height="4.41" fill="#4a7190" stroke="#27425a" stroke-width="0.7"/>
<rect x="144.85" y="437.39" width="10.8" height="1.26" fill="#6ea6d0" stroke="#3d76a3" stroke-width="0.7"/>
<rect x="155.65" y="432.04" width="10.8" height="6.61" fill="#9bc9e8" stroke="#5a93bd" stroke-width="0.7"/>
<rect x="175.52" y="407.15" width="35.1" height="31.5" fill="#fff" stroke="#949494" stroke-width="0.75"/>
<rect x="176.77" y="430.15" width="10.8" height="8.51" fill="#4a7190" stroke="#27425a" stroke-width="0.7"/>
<rect x="187.57" y="436.13" width="10.8" height="2.52" fill="#6ea6d0" stroke="#3d76a3" stroke-width="0.7"/>
<rect x="198.37" y="433.93" width="10.8" height="4.72" fill="#9bc9e8" stroke="#5a93bd" stroke-width="0.7"/>
<rect x="218.24" y="407.15" width="35.1" height="31.5" fill="#fff" stroke="#949494" stroke-width="0.75"/>
<rect x="219.49" y="431.41" width="10.8" height="7.25" fill="#4a7190" stroke="#27425a" stroke-width="0.7"/>
<rect x="230.29" y="437.71" width="10.8" height="0.94" fill="#6ea6d0" stroke="#3d76a3" stroke-width="0.7"/>
<rect x="241.09" y="434.08" width="10.8" height="4.57" fill="#9bc9e8" stroke="#5a93bd" stroke-width="0.7"/>
<rect x="260.96" y="407.15" width="35.1" height="31.5" fill="#fff" stroke="#949494" stroke-width="0.75"/>
<rect x="262.21" y="429.36" width="10.8" height="9.29" fill="#4a7190" stroke="#27425a" stroke-width="0.7"/>
<rect x="273.01" y="435.66" width="10.8" height="2.99" fill="#6ea6d0" stroke="#3d76a3" stroke-width="0.7"/>
<rect x="283.81" y="435.66" width="10.8" height="2.99" fill="#9bc9e8" stroke="#5a93bd" stroke-width="0.7"/>
<rect x="303.68" y="407.15" width="35.1" height="31.5" fill="#fff" stroke="#e79aa3" stroke-width="0.75"/>
<rect x="304.93" y="420.07" width="10.8" height="18.58" fill="#4a7190" stroke="#27425a" stroke-width="0.7"/>
<rect x="315.73" y="434.56" width="10.8" height="4.09" fill="#6ea6d0" stroke="#3d76a3" stroke-width="0.7"/>
<rect x="326.53" y="436.60" width="10.8" height="2.05" fill="#9bc9e8" stroke="#5a93bd" stroke-width="0.7"/>
<text transform="translate(306.83 413.75) scale(0.9 1)" font-size="8.6" fill="#c0283c">2 x 10<tspan font-size="5.0" dy="-3.4">-12</tspan></text>
<rect x="346.40" y="407.15" width="35.1" height="31.5" fill="#fff" stroke="#949494" stroke-width="0.75"/>
<rect x="347.65" y="428.10" width="10.8" height="10.55" fill="#4a7190" stroke="#27425a" stroke-width="0.7"/>
<rect x="358.45" y="433.61" width="10.8" height="5.04" fill="#6ea6d0" stroke="#3d76a3" stroke-width="0.7"/>
<rect x="369.25" y="434.56" width="10.8" height="4.09" fill="#9bc9e8" stroke="#5a93bd" stroke-width="0.7"/>
<rect x="389.12" y="407.15" width="35.1" height="31.5" fill="#fff" stroke="#949494" stroke-width="0.75"/>
<rect x="390.37" y="433.61" width="10.8" height="5.04" fill="#4a7190" stroke="#27425a" stroke-width="0.7"/>
<rect x="401.17" y="432.67" width="10.8" height="5.99" fill="#6ea6d0" stroke="#3d76a3" stroke-width="0.7"/>
<rect x="411.97" y="433.14" width="10.8" height="5.51" fill="#9bc9e8" stroke="#5a93bd" stroke-width="0.7"/>
<rect x="47.36" y="449.35" width="35.1" height="31.5" fill="#fff" stroke="#949494" stroke-width="0.75"/>
<rect x="48.61" y="476.44" width="10.8" height="4.41" fill="#4a7190" stroke="#27425a" stroke-width="0.7"/>
<rect x="59.41" y="475.81" width="10.8" height="5.04" fill="#6ea6d0" stroke="#3d76a3" stroke-width="0.7"/>
<rect x="70.21" y="475.34" width="10.8" height="5.51" fill="#9bc9e8" stroke="#5a93bd" stroke-width="0.7"/>
<rect x="90.08" y="449.35" width="35.1" height="31.5" fill="#fff" stroke="#949494" stroke-width="0.75"/>
<rect x="91.33" y="474.55" width="10.8" height="6.30" fill="#4a7190" stroke="#27425a" stroke-width="0.7"/>
<rect x="102.13" y="476.60" width="10.8" height="4.25" fill="#6ea6d0" stroke="#3d76a3" stroke-width="0.7"/>
<rect x="112.93" y="477.86" width="10.8" height="2.99" fill="#9bc9e8" stroke="#5a93bd" stroke-width="0.7"/>
<rect x="132.80" y="449.35" width="35.1" height="31.5" fill="#fff" stroke="#949494" stroke-width="0.75"/>
<rect x="134.05" y="477.39" width="10.8" height="3.46" fill="#4a7190" stroke="#27425a" stroke-width="0.7"/>
<rect x="144.85" y="475.34" width="10.8" height="5.51" fill="#6ea6d0" stroke="#3d76a3" stroke-width="0.7"/>
<rect x="155.65" y="479.59" width="10.8" height="1.26" fill="#9bc9e8" stroke="#5a93bd" stroke-width="0.7"/>
<rect x="175.52" y="449.35" width="35.1" height="31.5" fill="#fff" stroke="#949494" stroke-width="0.75"/>
<rect x="176.77" y="473.29" width="10.8" height="7.56" fill="#4a7190" stroke="#27425a" stroke-width="0.7"/>
<rect x="187.57" y="476.75" width="10.8" height="4.09" fill="#6ea6d0" stroke="#3d76a3" stroke-width="0.7"/>
<rect x="198.37" y="476.75" width="10.8" height="4.09" fill="#9bc9e8" stroke="#5a93bd" stroke-width="0.7"/>
<rect x="218.24" y="449.35" width="35.1" height="31.5" fill="#fff" stroke="#949494" stroke-width="0.75"/>
<rect x="219.49" y="471.09" width="10.8" height="9.77" fill="#4a7190" stroke="#27425a" stroke-width="0.7"/>
<rect x="230.29" y="478.65" width="10.8" height="2.21" fill="#6ea6d0" stroke="#3d76a3" stroke-width="0.7"/>
<rect x="241.09" y="479.59" width="10.8" height="1.26" fill="#9bc9e8" stroke="#5a93bd" stroke-width="0.7"/>
<rect x="260.96" y="449.35" width="35.1" height="31.5" fill="#fff" stroke="#949494" stroke-width="0.75"/>
<rect x="262.21" y="468.56" width="10.8" height="12.29" fill="#4a7190" stroke="#27425a" stroke-width="0.7"/>
<rect x="273.01" y="478.02" width="10.8" height="2.83" fill="#6ea6d0" stroke="#3d76a3" stroke-width="0.7"/>
<rect x="283.81" y="475.81" width="10.8" height="5.04" fill="#9bc9e8" stroke="#5a93bd" stroke-width="0.7"/>
<rect x="303.68" y="449.35" width="35.1" height="31.5" fill="#fff" stroke="#e79aa3" stroke-width="0.75"/>
<rect x="304.93" y="460.22" width="10.8" height="20.63" fill="#4a7190" stroke="#27425a" stroke-width="0.7"/>
<rect x="315.73" y="478.65" width="10.8" height="2.21" fill="#6ea6d0" stroke="#3d76a3" stroke-width="0.7"/>
<rect x="326.53" y="473.29" width="10.8" height="7.56" fill="#9bc9e8" stroke="#5a93bd" stroke-width="0.7"/>
<text transform="translate(307.33 455.95) scale(0.9 1)" font-size="8.6" fill="#c0283c">7 x 10<tspan font-size="5.0" dy="-3.4">-5</tspan></text>
<rect x="346.40" y="449.35" width="35.1" height="31.5" fill="#fff" stroke="#949494" stroke-width="0.75"/>
<rect x="347.65" y="471.09" width="10.8" height="9.77" fill="#4a7190" stroke="#27425a" stroke-width="0.7"/>
<rect x="358.45" y="473.61" width="10.8" height="7.25" fill="#6ea6d0" stroke="#3d76a3" stroke-width="0.7"/>
<rect x="369.25" y="476.60" width="10.8" height="4.25" fill="#9bc9e8" stroke="#5a93bd" stroke-width="0.7"/>
<rect x="389.12" y="449.35" width="35.1" height="31.5" fill="#fff" stroke="#949494" stroke-width="0.75"/>
<rect x="390.37" y="476.60" width="10.8" height="4.25" fill="#4a7190" stroke="#27425a" stroke-width="0.7"/>
<rect x="401.17" y="475.34" width="10.8" height="5.51" fill="#6ea6d0" stroke="#3d76a3" stroke-width="0.7"/>
<rect x="411.97" y="475.81" width="10.8" height="5.04" fill="#9bc9e8" stroke="#5a93bd" stroke-width="0.7"/>
<rect x="431.84" y="449.35" width="35.1" height="31.5" fill="#fff" stroke="#949494" stroke-width="0.75"/>
<rect x="433.09" y="472.50" width="10.8" height="8.35" fill="#4a7190" stroke="#27425a" stroke-width="0.7"/>
<rect x="443.89" y="480.54" width="10.8" height="0.32" fill="#6ea6d0" stroke="#3d76a3" stroke-width="0.7"/>
<rect x="454.69" y="476.75" width="10.8" height="4.09" fill="#9bc9e8" stroke="#5a93bd" stroke-width="0.7"/>
<rect x="47.36" y="491.55" width="35.1" height="31.5" fill="#fff" stroke="#949494" stroke-width="0.75"/>
<rect x="48.61" y="515.49" width="10.8" height="7.56" fill="#4a7190" stroke="#27425a" stroke-width="0.7"/>
<rect x="59.41" y="516.28" width="10.8" height="6.77" fill="#6ea6d0" stroke="#3d76a3" stroke-width="0.7"/>
<rect x="70.21" y="518.01" width="10.8" height="5.04" fill="#9bc9e8" stroke="#5a93bd" stroke-width="0.7"/>
<rect x="90.08" y="491.55" width="35.1" height="31.5" fill="#fff" stroke="#949494" stroke-width="0.75"/>
<rect x="91.33" y="512.50" width="10.8" height="10.55" fill="#4a7190" stroke="#27425a" stroke-width="0.7"/>
<rect x="102.13" y="517.69" width="10.8" height="5.36" fill="#6ea6d0" stroke="#3d76a3" stroke-width="0.7"/>
<rect x="112.93" y="520.53" width="10.8" height="2.52" fill="#9bc9e8" stroke="#5a93bd" stroke-width="0.7"/>
<rect x="132.80" y="491.55" width="35.1" height="31.5" fill="#fff" stroke="#949494" stroke-width="0.75"/>
<rect x="134.05" y="516.43" width="10.8" height="6.61" fill="#4a7190" stroke="#27425a" stroke-width="0.7"/>
<rect x="144.85" y="515.49" width="10.8" height="7.56" fill="#6ea6d0" stroke="#3d76a3" stroke-width="0.7"/>
<rect x="155.65" y="521.79" width="10.8" height="1.26" fill="#9bc9e8" stroke="#5a93bd" stroke-width="0.7"/>
<rect x="175.52" y="491.55" width="35.1" height="31.5" fill="#fff" stroke="#949494" stroke-width="0.75"/>
<rect x="176.77" y="509.50" width="10.8" height="13.54" fill="#4a7190" stroke="#27425a" stroke-width="0.7"/>
<rect x="187.57" y="518.80" width="10.8" height="4.25" fill="#6ea6d0" stroke="#3d76a3" stroke-width="0.7"/>
<rect x="198.37" y="520.21" width="10.8" height="2.83" fill="#9bc9e8" stroke="#5a93bd" stroke-width="0.7"/>
<rect x="218.24" y="491.55" width="35.1" height="31.5" fill="#fff" stroke="#949494" stroke-width="0.75"/>
<rect x="219.49" y="513.28" width="10.8" height="9.77" fill="#4a7190" stroke="#27425a" stroke-width="0.7"/>
<rect x="230.29" y="517.06" width="10.8" height="5.99" fill="#6ea6d0" stroke="#3d76a3" stroke-width="0.7"/>
<rect x="241.09" y="521.32" width="10.8" height="1.73" fill="#9bc9e8" stroke="#5a93bd" stroke-width="0.7"/>
<rect x="260.96" y="491.55" width="35.1" height="31.5" fill="#fff" stroke="#e79aa3" stroke-width="0.75"/>
<rect x="262.21" y="507.93" width="10.8" height="15.12" fill="#4a7190" stroke="#27425a" stroke-width="0.7"/>
<rect x="273.01" y="522.89" width="10.8" height="0.30" fill="#6ea6d0" stroke="#3d76a3" stroke-width="0.7"/>
<rect x="283.81" y="519.58" width="10.8" height="3.46" fill="#9bc9e8" stroke="#5a93bd" stroke-width="0.7"/>
<text transform="translate(267.36 499.05) scale(0.9 1)" font-size="8.6" fill="#c0283c">3 x 10<tspan font-size="5.0" dy="-3.4">-7</tspan></text>
<rect x="303.68" y="491.55" width="35.1" height="31.5" fill="#fff" stroke="#e79aa3" stroke-width="0.75"/>
<rect x="304.93" y="498.48" width="10.8" height="24.57" fill="#4a7190" stroke="#27425a" stroke-width="0.7"/>
<rect x="315.73" y="521.79" width="10.8" height="1.26" fill="#6ea6d0" stroke="#3d76a3" stroke-width="0.7"/>
<rect x="326.53" y="516.43" width="10.8" height="6.61" fill="#9bc9e8" stroke="#5a93bd" stroke-width="0.7"/>
<text transform="translate(309.68 496.95) scale(0.9 1)" font-size="8.6" fill="#c0283c">2 x 10<tspan font-size="5.0" dy="-3.4">-11</tspan></text>
<rect x="346.40" y="491.55" width="35.1" height="31.5" fill="#fff" stroke="#949494" stroke-width="0.75"/>
<rect x="347.65" y="507.93" width="10.8" height="15.12" fill="#4a7190" stroke="#27425a" stroke-width="0.7"/>
<rect x="358.45" y="518.48" width="10.8" height="4.57" fill="#6ea6d0" stroke="#3d76a3" stroke-width="0.7"/>
<rect x="369.25" y="519.58" width="10.8" height="3.46" fill="#9bc9e8" stroke="#5a93bd" stroke-width="0.7"/>
<rect x="389.12" y="491.55" width="35.1" height="31.5" fill="#fff" stroke="#949494" stroke-width="0.75"/>
<rect x="390.37" y="519.58" width="10.8" height="3.46" fill="#4a7190" stroke="#27425a" stroke-width="0.7"/>
<rect x="401.17" y="517.22" width="10.8" height="5.83" fill="#6ea6d0" stroke="#3d76a3" stroke-width="0.7"/>
<rect x="411.97" y="515.17" width="10.8" height="7.88" fill="#9bc9e8" stroke="#5a93bd" stroke-width="0.7"/>
<rect x="431.84" y="491.55" width="35.1" height="31.5" fill="#fff" stroke="#949494" stroke-width="0.75"/>
<rect x="433.09" y="513.76" width="10.8" height="9.29" fill="#4a7190" stroke="#27425a" stroke-width="0.7"/>
<rect x="443.89" y="521.47" width="10.8" height="1.58" fill="#6ea6d0" stroke="#3d76a3" stroke-width="0.7"/>
<rect x="454.69" y="518.80" width="10.8" height="4.25" fill="#9bc9e8" stroke="#5a93bd" stroke-width="0.7"/>
<rect x="474.56" y="491.55" width="35.1" height="31.5" fill="#fff" stroke="#949494" stroke-width="0.75"/>
<rect x="475.81" y="515.80" width="10.8" height="7.25" fill="#4a7190" stroke="#27425a" stroke-width="0.7"/>
<rect x="486.61" y="519.27" width="10.8" height="3.78" fill="#6ea6d0" stroke="#3d76a3" stroke-width="0.7"/>
<rect x="497.41" y="516.28" width="10.8" height="6.77" fill="#9bc9e8" stroke="#5a93bd" stroke-width="0.7"/>
<rect x="47.36" y="532.55" width="35.1" height="31.5" fill="#fff" stroke="#949494" stroke-width="0.75"/>
<rect x="48.61" y="557.28" width="10.8" height="6.77" fill="#4a7190" stroke="#27425a" stroke-width="0.7"/>
<rect x="59.41" y="558.54" width="10.8" height="5.51" fill="#6ea6d0" stroke="#3d76a3" stroke-width="0.7"/>
<rect x="70.21" y="564.05" width="10.8" height="2.52" fill="#9bc9e8" stroke="#5a93bd" stroke-width="0.7"/>
<rect x="90.08" y="532.55" width="35.1" height="31.5" fill="#fff" stroke="#949494" stroke-width="0.75"/>
<rect x="91.33" y="559.32" width="10.8" height="4.72" fill="#4a7190" stroke="#27425a" stroke-width="0.7"/>
<rect x="102.13" y="560.58" width="10.8" height="3.46" fill="#6ea6d0" stroke="#3d76a3" stroke-width="0.7"/>
<rect x="112.93" y="564.05" width="10.8" height="0.47" fill="#9bc9e8" stroke="#5a93bd" stroke-width="0.7"/>
<rect x="132.80" y="532.55" width="35.1" height="31.5" fill="#fff" stroke="#949494" stroke-width="0.75"/>
<rect x="134.05" y="561.21" width="10.8" height="2.83" fill="#4a7190" stroke="#27425a" stroke-width="0.7"/>
<rect x="144.85" y="562.47" width="10.8" height="1.58" fill="#6ea6d0" stroke="#3d76a3" stroke-width="0.7"/>
<rect x="155.65" y="564.05" width="10.8" height="1.26" fill="#9bc9e8" stroke="#5a93bd" stroke-width="0.7"/>
<rect x="175.52" y="532.55" width="35.1" height="31.5" fill="#fff" stroke="#949494" stroke-width="0.75"/>
<rect x="176.77" y="564.05" width="10.8" height="5.51" fill="#4a7190" stroke="#27425a" stroke-width="0.7"/>
<rect x="187.57" y="559.01" width="10.8" height="5.04" fill="#6ea6d0" stroke="#3d76a3" stroke-width="0.7"/>
<rect x="198.37" y="563.58" width="10.8" height="0.47" fill="#9bc9e8" stroke="#5a93bd" stroke-width="0.7"/>
<rect x="218.24" y="532.55" width="35.1" height="31.5" fill="#fff" stroke="#949494" stroke-width="0.75"/>
<rect x="219.49" y="556.96" width="10.8" height="7.09" fill="#4a7190" stroke="#27425a" stroke-width="0.7"/>
<rect x="230.29" y="561.21" width="10.8" height="2.83" fill="#6ea6d0" stroke="#3d76a3" stroke-width="0.7"/>
<rect x="241.09" y="564.05" width="10.8" height="0.63" fill="#9bc9e8" stroke="#5a93bd" stroke-width="0.7"/>
<rect x="260.96" y="532.55" width="35.1" height="31.5" fill="#fff" stroke="#949494" stroke-width="0.75"/>
<rect x="262.21" y="551.13" width="10.8" height="12.91" fill="#4a7190" stroke="#27425a" stroke-width="0.7"/>
<rect x="273.01" y="558.22" width="10.8" height="5.83" fill="#6ea6d0" stroke="#3d76a3" stroke-width="0.7"/>
<rect x="283.81" y="564.05" width="10.8" height="0.32" fill="#9bc9e8" stroke="#5a93bd" stroke-width="0.7"/>
<rect x="303.68" y="532.55" width="35.1" height="31.5" fill="#fff" stroke="#949494" stroke-width="0.75"/>
<rect x="304.93" y="542.16" width="10.8" height="21.89" fill="#4a7190" stroke="#27425a" stroke-width="0.7"/>
<rect x="315.73" y="555.54" width="10.8" height="8.51" fill="#6ea6d0" stroke="#3d76a3" stroke-width="0.7"/>
<rect x="326.53" y="564.05" width="10.8" height="0.63" fill="#9bc9e8" stroke="#5a93bd" stroke-width="0.7"/>
<rect x="346.40" y="532.55" width="35.1" height="31.5" fill="#fff" stroke="#949494" stroke-width="0.75"/>
<rect x="347.65" y="547.20" width="10.8" height="16.85" fill="#4a7190" stroke="#27425a" stroke-width="0.7"/>
<rect x="358.45" y="558.54" width="10.8" height="5.51" fill="#6ea6d0" stroke="#3d76a3" stroke-width="0.7"/>
<rect x="369.25" y="557.28" width="10.8" height="6.77" fill="#9bc9e8" stroke="#5a93bd" stroke-width="0.7"/>
<rect x="389.12" y="532.55" width="35.1" height="31.5" fill="#fff" stroke="#949494" stroke-width="0.75"/>
<rect x="390.37" y="561.53" width="10.8" height="2.52" fill="#4a7190" stroke="#27425a" stroke-width="0.7"/>
<rect x="401.17" y="558.69" width="10.8" height="5.36" fill="#6ea6d0" stroke="#3d76a3" stroke-width="0.7"/>
<rect x="411.97" y="553.34" width="10.8" height="10.71" fill="#9bc9e8" stroke="#5a93bd" stroke-width="0.7"/>
<rect x="431.84" y="532.55" width="35.1" height="31.5" fill="#fff" stroke="#949494" stroke-width="0.75"/>
<rect x="433.09" y="557.43" width="10.8" height="6.61" fill="#4a7190" stroke="#27425a" stroke-width="0.7"/>
<rect x="443.89" y="558.69" width="10.8" height="5.36" fill="#6ea6d0" stroke="#3d76a3" stroke-width="0.7"/>
<rect x="454.69" y="564.05" width="10.8" height="0.63" fill="#9bc9e8" stroke="#5a93bd" stroke-width="0.7"/>
<rect x="474.56" y="532.55" width="35.1" height="31.5" fill="#fff" stroke="#949494" stroke-width="0.75"/>
<rect x="475.81" y="552.39" width="10.8" height="11.65" fill="#4a7190" stroke="#27425a" stroke-width="0.7"/>
<rect x="486.61" y="560.74" width="10.8" height="3.31" fill="#6ea6d0" stroke="#3d76a3" stroke-width="0.7"/>
<rect x="497.41" y="555.23" width="10.8" height="8.82" fill="#9bc9e8" stroke="#5a93bd" stroke-width="0.7"/>
<rect x="517.28" y="532.55" width="35.1" height="31.5" fill="#fff" stroke="#949494" stroke-width="0.75"/>
<rect x="518.53" y="548.30" width="10.8" height="15.75" fill="#4a7190" stroke="#27425a" stroke-width="0.7"/>
<rect x="529.33" y="559.80" width="10.8" height="4.25" fill="#6ea6d0" stroke="#3d76a3" stroke-width="0.7"/>
<rect x="540.13" y="557.43" width="10.8" height="6.61" fill="#9bc9e8" stroke="#5a93bd" stroke-width="0.7"/>
<rect x="47.36" y="575.95" width="35.1" height="31.5" fill="#fff" stroke="#949494" stroke-width="0.75"/>
<rect x="48.61" y="594.22" width="10.8" height="13.23" fill="#4a7190" stroke="#27425a" stroke-width="0.7"/>
<rect x="59.41" y="605.25" width="10.8" height="2.21" fill="#6ea6d0" stroke="#3d76a3" stroke-width="0.7"/>
<rect x="70.21" y="602.10" width="10.8" height="5.36" fill="#9bc9e8" stroke="#5a93bd" stroke-width="0.7"/>
<rect x="90.08" y="575.95" width="35.1" height="31.5" fill="#fff" stroke="#e79aa3" stroke-width="0.75"/>
<rect x="91.33" y="591.07" width="10.8" height="16.38" fill="#4a7190" stroke="#27425a" stroke-width="0.7"/>
<rect x="102.13" y="606.50" width="10.8" height="0.94" fill="#6ea6d0" stroke="#3d76a3" stroke-width="0.7"/>
<rect x="112.93" y="604.93" width="10.8" height="2.52" fill="#9bc9e8" stroke="#5a93bd" stroke-width="0.7"/>
<text transform="translate(93.78 584.35) scale(0.9 1)" font-size="8.6" fill="#c0283c">5 x 10<tspan font-size="5.0" dy="-3.4">-6</tspan></text>
<rect x="132.80" y="575.95" width="35.1" height="31.5" fill="#fff" stroke="#949494" stroke-width="0.75"/>
<rect x="134.05" y="600.84" width="10.8" height="6.61" fill="#4a7190" stroke="#27425a" stroke-width="0.7"/>
<rect x="144.85" y="605.25" width="10.8" height="2.21" fill="#6ea6d0" stroke="#3d76a3" stroke-width="0.7"/>
<rect x="155.65" y="606.50" width="10.8" height="0.94" fill="#9bc9e8" stroke="#5a93bd" stroke-width="0.7"/>
<rect x="175.52" y="575.95" width="35.1" height="31.5" fill="#fff" stroke="#949494" stroke-width="0.75"/>
<rect x="176.77" y="595.17" width="10.8" height="12.29" fill="#4a7190" stroke="#27425a" stroke-width="0.7"/>
<rect x="187.57" y="605.25" width="10.8" height="2.21" fill="#6ea6d0" stroke="#3d76a3" stroke-width="0.7"/>
<rect x="198.37" y="603.20" width="10.8" height="4.25" fill="#9bc9e8" stroke="#5a93bd" stroke-width="0.7"/>
<rect x="218.24" y="575.95" width="35.1" height="31.5" fill="#fff" stroke="#949494" stroke-width="0.75"/>
<rect x="219.49" y="594.38" width="10.8" height="13.07" fill="#4a7190" stroke="#27425a" stroke-width="0.7"/>
<rect x="230.29" y="606.50" width="10.8" height="0.94" fill="#6ea6d0" stroke="#3d76a3" stroke-width="0.7"/>
<rect x="241.09" y="605.72" width="10.8" height="1.73" fill="#9bc9e8" stroke="#5a93bd" stroke-width="0.7"/>
<text transform="translate(223.84 584.55) scale(0.9 1)" font-size="8.6" fill="#c0283c">6 x 10<tspan font-size="5.0" dy="-3.4">-7</tspan></text>
<rect x="260.96" y="575.95" width="35.1" height="31.5" fill="#fff" stroke="#949494" stroke-width="0.75"/>
<rect x="262.21" y="597.06" width="10.8" height="10.40" fill="#4a7190" stroke="#27425a" stroke-width="0.7"/>
<rect x="273.01" y="607.13" width="10.8" height="0.32" fill="#6ea6d0" stroke="#3d76a3" stroke-width="0.7"/>
<rect x="283.81" y="602.73" width="10.8" height="4.72" fill="#9bc9e8" stroke="#5a93bd" stroke-width="0.7"/>
<rect x="303.68" y="575.95" width="35.1" height="31.5" fill="#fff" stroke="#e79aa3" stroke-width="0.75"/>
<rect x="304.93" y="588.24" width="10.8" height="19.21" fill="#4a7190" stroke="#27425a" stroke-width="0.7"/>
<rect x="315.73" y="607.13" width="10.8" height="0.32" fill="#6ea6d0" stroke="#3d76a3" stroke-width="0.7"/>
<rect x="326.53" y="600.68" width="10.8" height="6.77" fill="#9bc9e8" stroke="#5a93bd" stroke-width="0.7"/>
<text transform="translate(307.48 584.15) scale(0.9 1)" font-size="8.6" fill="#c0283c">1 x 10<tspan font-size="5.0" dy="-3.4">-9</tspan></text>
<rect x="346.40" y="575.95" width="35.1" height="31.5" fill="#fff" stroke="#e79aa3" stroke-width="0.75"/>
<rect x="347.65" y="591.38" width="10.8" height="16.07" fill="#4a7190" stroke="#27425a" stroke-width="0.7"/>
<rect x="358.45" y="603.36" width="10.8" height="4.09" fill="#6ea6d0" stroke="#3d76a3" stroke-width="0.7"/>
<rect x="369.25" y="606.82" width="10.8" height="0.63" fill="#9bc9e8" stroke="#5a93bd" stroke-width="0.7"/>
<text transform="translate(351.60 584.15) scale(0.9 1)" font-size="8.6" fill="#c0283c">7 x 10<tspan font-size="5.0" dy="-3.4">-6</tspan></text>
<rect x="389.12" y="575.95" width="35.1" height="31.5" fill="#fff" stroke="#949494" stroke-width="0.75"/>
<rect x="390.37" y="592.33" width="10.8" height="15.12" fill="#4a7190" stroke="#27425a" stroke-width="0.7"/>
<rect x="401.17" y="603.36" width="10.8" height="4.09" fill="#6ea6d0" stroke="#3d76a3" stroke-width="0.7"/>
<rect x="411.97" y="604.62" width="10.8" height="2.83" fill="#9bc9e8" stroke="#5a93bd" stroke-width="0.7"/>
<rect x="431.84" y="575.95" width="35.1" height="31.5" fill="#fff" stroke="#e79aa3" stroke-width="0.75"/>
<rect x="433.09" y="593.28" width="10.8" height="14.18" fill="#4a7190" stroke="#27425a" stroke-width="0.7"/>
<rect x="443.89" y="607.29" width="10.8" height="0.30" fill="#6ea6d0" stroke="#3d76a3" stroke-width="0.7"/>
<rect x="454.69" y="603.36" width="10.8" height="4.09" fill="#9bc9e8" stroke="#5a93bd" stroke-width="0.7"/>
<text transform="translate(433.59 584.35) scale(0.9 1)" font-size="8.6" fill="#c0283c">1 x 10<tspan font-size="5.0" dy="-3.4">-7</tspan></text>
<rect x="474.56" y="575.95" width="35.1" height="31.5" fill="#fff" stroke="#949494" stroke-width="0.75"/>
<rect x="475.81" y="593.28" width="10.8" height="14.18" fill="#4a7190" stroke="#27425a" stroke-width="0.7"/>
<rect x="486.61" y="603.36" width="10.8" height="4.09" fill="#6ea6d0" stroke="#3d76a3" stroke-width="0.7"/>
<rect x="497.41" y="604.62" width="10.8" height="2.83" fill="#9bc9e8" stroke="#5a93bd" stroke-width="0.7"/>
<rect x="517.28" y="575.95" width="35.1" height="31.5" fill="#fff" stroke="#e79aa3" stroke-width="0.75"/>
<rect x="518.53" y="587.29" width="10.8" height="20.16" fill="#4a7190" stroke="#27425a" stroke-width="0.7"/>
<rect x="529.33" y="604.14" width="10.8" height="3.31" fill="#6ea6d0" stroke="#3d76a3" stroke-width="0.7"/>
<rect x="540.13" y="606.50" width="10.8" height="0.94" fill="#9bc9e8" stroke="#5a93bd" stroke-width="0.7"/>
<text transform="translate(520.18 584.15) scale(0.9 1)" font-size="8.6" fill="#c0283c">2 x 10<tspan font-size="5.0" dy="-3.4">-9</tspan></text>
<rect x="560.00" y="575.95" width="35.1" height="31.5" fill="#fff" stroke="#e79aa3" stroke-width="0.75"/>
<rect x="561.25" y="584.30" width="10.8" height="23.15" fill="#4a7190" stroke="#27425a" stroke-width="0.7"/>
<rect x="572.05" y="606.98" width="10.8" height="0.47" fill="#6ea6d0" stroke="#3d76a3" stroke-width="0.7"/>
<rect x="582.85" y="601.94" width="10.8" height="5.51" fill="#9bc9e8" stroke="#5a93bd" stroke-width="0.7"/>
<text transform="translate(564.85 584.15) scale(0.9 1)" font-size="8.6" fill="#c0283c">1 x 10<tspan font-size="5.0" dy="-3.4">-6</tspan></text>
<rect x="47.36" y="618.15" width="35.1" height="31.5" fill="#fff" stroke="#949494" stroke-width="0.75"/>
<rect x="48.61" y="632.17" width="10.8" height="17.48" fill="#4a7190" stroke="#27425a" stroke-width="0.7"/>
<rect x="59.41" y="642.72" width="10.8" height="6.93" fill="#6ea6d0" stroke="#3d76a3" stroke-width="0.7"/>
<rect x="70.21" y="644.61" width="10.8" height="5.04" fill="#9bc9e8" stroke="#5a93bd" stroke-width="0.7"/>
<rect x="90.08" y="618.15" width="35.1" height="31.5" fill="#fff" stroke="#949494" stroke-width="0.75"/>
<rect x="91.33" y="633.27" width="10.8" height="16.38" fill="#4a7190" stroke="#27425a" stroke-width="0.7"/>
<rect x="102.13" y="645.87" width="10.8" height="3.78" fill="#6ea6d0" stroke="#3d76a3" stroke-width="0.7"/>
<rect x="112.93" y="647.60" width="10.8" height="2.05" fill="#9bc9e8" stroke="#5a93bd" stroke-width="0.7"/>
<rect x="132.80" y="618.15" width="35.1" height="31.5" fill="#fff" stroke="#949494" stroke-width="0.75"/>
<rect x="134.05" y="636.11" width="10.8" height="13.54" fill="#4a7190" stroke="#27425a" stroke-width="0.7"/>
<rect x="144.85" y="642.56" width="10.8" height="7.09" fill="#6ea6d0" stroke="#3d76a3" stroke-width="0.7"/>
<rect x="155.65" y="649.02" width="10.8" height="0.63" fill="#9bc9e8" stroke="#5a93bd" stroke-width="0.7"/>
<rect x="175.52" y="618.15" width="35.1" height="31.5" fill="#fff" stroke="#949494" stroke-width="0.75"/>
<rect x="176.77" y="633.43" width="10.8" height="16.22" fill="#4a7190" stroke="#27425a" stroke-width="0.7"/>
<rect x="187.57" y="646.50" width="10.8" height="3.15" fill="#6ea6d0" stroke="#3d76a3" stroke-width="0.7"/>
<rect x="198.37" y="646.50" width="10.8" height="3.15" fill="#9bc9e8" stroke="#5a93bd" stroke-width="0.7"/>
<rect x="218.24" y="618.15" width="35.1" height="31.5" fill="#fff" stroke="#949494" stroke-width="0.75"/>
<rect x="219.49" y="635.48" width="10.8" height="14.18" fill="#4a7190" stroke="#27425a" stroke-width="0.7"/>
<rect x="230.29" y="641.62" width="10.8" height="8.03" fill="#6ea6d0" stroke="#3d76a3" stroke-width="0.7"/>
<rect x="241.09" y="647.60" width="10.8" height="2.05" fill="#9bc9e8" stroke="#5a93bd" stroke-width="0.7"/>
<rect x="260.96" y="618.15" width="35.1" height="31.5" fill="#fff" stroke="#949494" stroke-width="0.75"/>
<rect x="262.21" y="633.90" width="10.8" height="15.75" fill="#4a7190" stroke="#27425a" stroke-width="0.7"/>
<rect x="273.01" y="649.33" width="10.8" height="0.32" fill="#6ea6d0" stroke="#3d76a3" stroke-width="0.7"/>
<rect x="283.81" y="645.40" width="10.8" height="4.25" fill="#9bc9e8" stroke="#5a93bd" stroke-width="0.7"/>
<rect x="303.68" y="618.15" width="35.1" height="31.5" fill="#fff" stroke="#949494" stroke-width="0.75"/>
<rect x="304.93" y="628.70" width="10.8" height="20.95" fill="#4a7190" stroke="#27425a" stroke-width="0.7"/>
<rect x="315.73" y="647.13" width="10.8" height="2.52" fill="#6ea6d0" stroke="#3d76a3" stroke-width="0.7"/>
<rect x="326.53" y="642.56" width="10.8" height="7.09" fill="#9bc9e8" stroke="#5a93bd" stroke-width="0.7"/>
<rect x="346.40" y="618.15" width="35.1" height="31.5" fill="#fff" stroke="#e79aa3" stroke-width="0.75"/>
<rect x="347.65" y="629.49" width="10.8" height="20.16" fill="#4a7190" stroke="#27425a" stroke-width="0.7"/>
<rect x="358.45" y="644.61" width="10.8" height="5.04" fill="#6ea6d0" stroke="#3d76a3" stroke-width="0.7"/>
<rect x="369.25" y="647.60" width="10.8" height="2.05" fill="#9bc9e8" stroke="#5a93bd" stroke-width="0.7"/>
<text transform="translate(351.40 625.25) scale(0.9 1)" font-size="8.6" fill="#c0283c">6 x 10<tspan font-size="5.0" dy="-3.4">-5</tspan></text>
<rect x="389.12" y="618.15" width="35.1" height="31.5" fill="#fff" stroke="#949494" stroke-width="0.75"/>
<rect x="390.37" y="636.26" width="10.8" height="13.39" fill="#4a7190" stroke="#27425a" stroke-width="0.7"/>
<rect x="401.17" y="645.40" width="10.8" height="4.25" fill="#6ea6d0" stroke="#3d76a3" stroke-width="0.7"/>
<rect x="411.97" y="640.51" width="10.8" height="9.13" fill="#9bc9e8" stroke="#5a93bd" stroke-width="0.7"/>
<rect x="431.84" y="618.15" width="35.1" height="31.5" fill="#fff" stroke="#949494" stroke-width="0.75"/>
<rect x="433.09" y="635.16" width="10.8" height="14.49" fill="#4a7190" stroke="#27425a" stroke-width="0.7"/>
<rect x="443.89" y="646.34" width="10.8" height="3.31" fill="#6ea6d0" stroke="#3d76a3" stroke-width="0.7"/>
<rect x="454.69" y="645.08" width="10.8" height="4.57" fill="#9bc9e8" stroke="#5a93bd" stroke-width="0.7"/>
<rect x="474.56" y="618.15" width="35.1" height="31.5" fill="#fff" stroke="#949494" stroke-width="0.75"/>
<rect x="475.81" y="639.25" width="10.8" height="10.40" fill="#4a7190" stroke="#27425a" stroke-width="0.7"/>
<rect x="486.61" y="645.40" width="10.8" height="4.25" fill="#6ea6d0" stroke="#3d76a3" stroke-width="0.7"/>
<rect x="497.41" y="640.20" width="10.8" height="9.45" fill="#9bc9e8" stroke="#5a93bd" stroke-width="0.7"/>
<rect x="517.28" y="618.15" width="35.1" height="31.5" fill="#fff" stroke="#e79aa3" stroke-width="0.75"/>
<rect x="518.53" y="626.34" width="10.8" height="23.31" fill="#4a7190" stroke="#27425a" stroke-width="0.7"/>
<rect x="529.33" y="645.55" width="10.8" height="4.09" fill="#6ea6d0" stroke="#3d76a3" stroke-width="0.7"/>
<rect x="540.13" y="647.60" width="10.8" height="2.05" fill="#9bc9e8" stroke="#5a93bd" stroke-width="0.7"/>
<text transform="translate(522.08 625.45) scale(0.9 1)" font-size="8.6" fill="#c0283c">4 x 10<tspan font-size="5.0" dy="-3.4">-7</tspan></text>
<rect x="560.00" y="618.15" width="35.1" height="31.5" fill="#fff" stroke="#e79aa3" stroke-width="0.75"/>
<rect x="561.25" y="626.34" width="10.8" height="23.31" fill="#4a7190" stroke="#27425a" stroke-width="0.7"/>
<rect x="572.05" y="646.81" width="10.8" height="2.83" fill="#6ea6d0" stroke="#3d76a3" stroke-width="0.7"/>
<rect x="582.85" y="643.82" width="10.8" height="5.83" fill="#9bc9e8" stroke="#5a93bd" stroke-width="0.7"/>
<text transform="translate(565.70 625.45) scale(0.9 1)" font-size="8.6" fill="#c0283c">7 x 10<tspan font-size="5.0" dy="-3.4">-5</tspan></text>
<rect x="602.72" y="619.05" width="35.1" height="31.5" fill="#fff" stroke="#e79aa3" stroke-width="0.75"/>
<rect x="603.97" y="626.92" width="10.8" height="23.62" fill="#4a7190" stroke="#27425a" stroke-width="0.7"/>
<rect x="614.77" y="648.82" width="10.8" height="1.73" fill="#6ea6d0" stroke="#3d76a3" stroke-width="0.7"/>
<rect x="625.57" y="646.45" width="10.8" height="4.09" fill="#9bc9e8" stroke="#5a93bd" stroke-width="0.7"/>
<text transform="translate(607.47 625.65) scale(0.9 1)" font-size="8.6" fill="#c0283c">3 x 10<tspan font-size="5.0" dy="-3.4">-7</tspan></text>
<path d="M28.5 717.9V798.55" stroke="#111" stroke-width="1.25" fill="none"/>
<path d="M24.2 798.00H28.5" stroke="#111" stroke-width="1.1"/>
<text x="18.8" y="800.60" font-size="7.2" text-anchor="end" fill="#1a1a1a">0</text>
<path d="M24.2 778.10H28.5" stroke="#111" stroke-width="1.1"/>
<text x="22.2" y="780.70" font-size="7.2" text-anchor="end" fill="#1a1a1a">5</text>
<path d="M24.2 758.20H28.5" stroke="#111" stroke-width="1.1"/>
<text x="22.2" y="760.80" font-size="7.2" text-anchor="end" fill="#1a1a1a">10</text>
<path d="M24.2 738.30H28.5" stroke="#111" stroke-width="1.1"/>
<text x="22.2" y="740.90" font-size="7.2" text-anchor="end" fill="#1a1a1a">15</text>
<path d="M24.2 718.40H28.5" stroke="#111" stroke-width="1.1"/>
<text x="22.2" y="721.00" font-size="7.2" text-anchor="end" fill="#1a1a1a">20</text>
<text transform="translate(11.0 756.9) rotate(-90)" font-size="7.7" text-anchor="middle" fill="#1a1a1a">-log10 (P value)</text>
<path d="M28.5 778.10H685" stroke="#7c7c7c" stroke-width="0.65" stroke-dasharray="1.15 1.05" fill="none"/>
<rect x="34.20" y="795.21" width="5.05" height="2.79" fill="#808080"/>
<rect x="40.39" y="797.20" width="5.05" height="0.80" fill="#808080"/>
<rect x="46.58" y="797.20" width="5.05" height="0.80" fill="#808080"/>
<rect x="52.77" y="797.20" width="5.05" height="0.80" fill="#808080"/>
<rect x="58.96" y="797.20" width="5.05" height="0.80" fill="#808080"/>
<rect x="65.15" y="796.21" width="5.05" height="1.79" fill="#808080"/>
<rect x="71.34" y="797.50" width="5.05" height="0.50" fill="#d0d0d0"/>
<rect x="77.53" y="787.45" width="5.05" height="10.55" fill="#808080"/>
<rect x="83.72" y="796.61" width="5.05" height="1.39" fill="#808080"/>
<rect x="89.91" y="789.44" width="5.05" height="8.56" fill="#808080"/>
<rect x="96.10" y="793.42" width="5.05" height="4.58" fill="#808080"/>
<rect x="102.29" y="796.21" width="5.05" height="1.79" fill="#808080"/>
<rect x="108.48" y="791.03" width="5.05" height="6.96" fill="#808080"/>
<rect x="114.67" y="794.02" width="5.05" height="3.98" fill="#808080"/>
<rect x="120.86" y="797.50" width="5.05" height="0.50" fill="#d0d0d0"/>
<rect x="127.05" y="785.26" width="5.05" height="12.74" fill="#808080"/>
<rect x="133.24" y="796.21" width="5.05" height="1.79" fill="#808080"/>
<rect x="139.43" y="791.43" width="5.05" height="6.57" fill="#808080"/>
<rect x="145.62" y="781.28" width="5.05" height="16.72" fill="#808080"/>
<rect x="151.81" y="785.86" width="5.05" height="12.14" fill="#808080"/>
<rect x="158.00" y="793.22" width="5.05" height="4.78" fill="#808080"/>
<rect x="164.19" y="796.41" width="5.05" height="1.59" fill="#808080"/>
<rect x="170.38" y="797.00" width="5.05" height="0.99" fill="#808080"/>
<rect x="176.57" y="796.21" width="5.05" height="1.79" fill="#808080"/>
<rect x="182.76" y="797.50" width="5.05" height="0.50" fill="#d0d0d0"/>
<rect x="188.95" y="769.14" width="5.05" height="28.86" fill="#808080"/>
<rect x="195.14" y="785.46" width="5.05" height="12.54" fill="#808080"/>
<rect x="201.33" y="797.20" width="5.05" height="0.80" fill="#808080"/>
<rect x="207.52" y="796.41" width="5.05" height="1.59" fill="#808080"/>
<rect x="213.71" y="797.50" width="5.05" height="0.50" fill="#d0d0d0"/>
<rect x="219.90" y="741.09" width="5.05" height="56.91" fill="#808080"/>
<rect x="226.09" y="795.41" width="5.05" height="2.59" fill="#808080"/>
<rect x="232.28" y="790.04" width="5.05" height="7.96" fill="#808080"/>
<rect x="238.47" y="789.24" width="5.05" height="8.76" fill="#808080"/>
<rect x="244.66" y="794.22" width="5.05" height="3.78" fill="#808080"/>
<rect x="250.85" y="795.61" width="5.05" height="2.39" fill="#808080"/>
<rect x="257.04" y="797.20" width="5.05" height="0.80" fill="#808080"/>
<rect x="263.23" y="794.02" width="5.05" height="3.98" fill="#808080"/>
<rect x="269.42" y="794.02" width="5.05" height="3.98" fill="#808080"/>
<rect x="275.61" y="797.20" width="5.05" height="0.80" fill="#808080"/>
<rect x="281.80" y="796.01" width="5.05" height="1.99" fill="#808080"/>
<rect x="287.99" y="785.86" width="5.05" height="12.14" fill="#808080"/>
<rect x="294.18" y="791.03" width="5.05" height="6.96" fill="#808080"/>
<rect x="300.37" y="795.21" width="5.05" height="2.79" fill="#808080"/>
<rect x="306.56" y="796.81" width="5.05" height="1.19" fill="#808080"/>
<rect x="312.75" y="797.50" width="5.05" height="0.50" fill="#d0d0d0"/>
<rect x="318.94" y="790.04" width="5.05" height="7.96" fill="#808080"/>
<rect x="325.13" y="792.83" width="5.05" height="5.17" fill="#808080"/>
<rect x="331.32" y="790.24" width="5.05" height="7.76" fill="#808080"/>
<rect x="337.51" y="786.06" width="5.05" height="11.94" fill="#808080"/>
<rect x="343.70" y="767.15" width="5.05" height="30.84" fill="#808080"/>
<rect x="349.89" y="698.90" width="5.05" height="99.10" fill="#808080"/>
<rect x="356.08" y="793.22" width="5.05" height="4.78" fill="#808080"/>
<rect x="362.27" y="794.22" width="5.05" height="3.78" fill="#808080"/>
<rect x="368.46" y="795.21" width="5.05" height="2.79" fill="#808080"/>
<rect x="374.65" y="787.05" width="5.05" height="10.95" fill="#808080"/>
<rect x="380.84" y="797.20" width="5.05" height="0.80" fill="#808080"/>
<rect x="387.03" y="796.61" width="5.05" height="1.39" fill="#808080"/>
<rect x="393.22" y="773.12" width="5.05" height="24.88" fill="#808080"/>
<rect x="399.41" y="795.21" width="5.05" height="2.79" fill="#808080"/>
<rect x="405.60" y="743.87" width="5.05" height="54.13" fill="#808080"/>
<rect x="411.79" y="793.02" width="5.05" height="4.97" fill="#808080"/>
<rect x="417.98" y="795.81" width="5.05" height="2.19" fill="#808080"/>
<rect x="424.17" y="793.22" width="5.05" height="4.78" fill="#808080"/>
<rect x="430.36" y="793.22" width="5.05" height="4.78" fill="#808080"/>
<rect x="436.55" y="772.33" width="5.05" height="25.67" fill="#808080"/>
<rect x="442.74" y="797.20" width="5.05" height="0.80" fill="#808080"/>
<rect x="448.93" y="790.44" width="5.05" height="7.56" fill="#808080"/>
<rect x="455.12" y="785.46" width="5.05" height="12.54" fill="#808080"/>
<rect x="461.31" y="777.30" width="5.05" height="20.70" fill="#808080"/>
<rect x="467.50" y="792.03" width="5.05" height="5.97" fill="#808080"/>
<rect x="473.69" y="752.23" width="5.05" height="45.77" fill="#808080"/>
<rect x="479.88" y="781.88" width="5.05" height="16.12" fill="#808080"/>
<rect x="486.07" y="755.81" width="5.05" height="42.19" fill="#808080"/>
<rect x="492.26" y="795.61" width="5.05" height="2.39" fill="#808080"/>
<rect x="498.45" y="774.72" width="5.05" height="23.28" fill="#808080"/>
<rect x="504.64" y="785.46" width="5.05" height="12.54" fill="#808080"/>
<rect x="510.83" y="797.50" width="5.05" height="0.50" fill="#d0d0d0"/>
<rect x="517.02" y="797.20" width="5.05" height="0.80" fill="#808080"/>
<rect x="523.21" y="797.20" width="5.05" height="0.80" fill="#808080"/>
<rect x="529.40" y="790.04" width="5.05" height="7.96" fill="#808080"/>
<rect x="535.59" y="794.42" width="5.05" height="3.58" fill="#808080"/>
<rect x="541.78" y="770.14" width="5.05" height="27.86" fill="#808080"/>
<rect x="547.97" y="781.48" width="5.05" height="16.52" fill="#808080"/>
<rect x="554.16" y="791.03" width="5.05" height="6.96" fill="#808080"/>
<rect x="560.35" y="791.83" width="5.05" height="6.17" fill="#808080"/>
<rect x="566.54" y="786.26" width="5.05" height="11.74" fill="#808080"/>
<rect x="572.73" y="786.66" width="5.05" height="11.34" fill="#808080"/>
<rect x="578.92" y="794.42" width="5.05" height="3.58" fill="#808080"/>
<rect x="585.11" y="797.50" width="5.05" height="0.50" fill="#d0d0d0"/>
<rect x="591.30" y="793.22" width="5.05" height="4.78" fill="#808080"/>
<rect x="597.49" y="794.22" width="5.05" height="3.78" fill="#808080"/>
<rect x="603.68" y="797.50" width="5.05" height="0.50" fill="#d0d0d0"/>
<rect x="609.87" y="771.13" width="5.05" height="26.86" fill="#808080"/>
<rect x="616.06" y="792.23" width="5.05" height="5.77" fill="#808080"/>
<rect x="622.25" y="794.82" width="5.05" height="3.18" fill="#808080"/>
<rect x="628.44" y="797.50" width="5.05" height="0.50" fill="#d0d0d0"/>
<rect x="634.63" y="791.23" width="5.05" height="6.77" fill="#808080"/>
<rect x="640.82" y="796.41" width="5.05" height="1.59" fill="#808080"/>
<rect x="647.01" y="794.22" width="5.05" height="3.78" fill="#808080"/>
<rect x="653.20" y="763.57" width="5.05" height="34.43" fill="#808080"/>
<rect x="659.39" y="772.93" width="5.05" height="25.07" fill="#808080"/>
<rect x="665.58" y="767.15" width="5.05" height="30.84" fill="#808080"/>
<rect x="671.77" y="781.68" width="5.05" height="16.32" fill="#808080"/>
<rect x="677.96" y="772.33" width="5.05" height="25.67" fill="#808080"/>
<g fill="none" stroke="#b8b8b8" stroke-width="0.7" stroke-dasharray="1.2 1.2">
<path d="M32.7 801.3H554.3"/>
<path d="M32.7 812.4H554.3"/>
<path d="M32.7 801.3V812.4"/>
<path d="M120.6 801.3V812.4"/>
<path d="M202.3 801.3V812.4"/>
<path d="M276.3 801.3V812.4"/>
<path d="M344.2 801.3V812.4"/>
<path d="M405.6 801.3V812.4"/>
<path d="M461.6 801.3V812.4"/>
<path d="M510.6 801.3V812.4"/>
<path d="M554.3 801.3V812.4"/>
</g>
<g font-size="7.7" fill="#1a1a1a" text-anchor="middle">
<text x="76.60" y="809.7">AR <tspan fill="#707070">+</tspan></text>
<text x="160.40" y="809.7">CEBP <tspan fill="#707070">+</tspan></text>
<text x="240.45" y="809.7">NR2F2 <tspan fill="#707070">+</tspan></text>
<text x="310.30" y="809.7">CTBP <tspan fill="#707070">+</tspan></text>
<text x="373.00" y="809.7">E2F1 <tspan fill="#707070">+</tspan></text>
<text x="435.70" y="809.7">ESR1 <tspan fill="#707070">+</tspan></text>
<text x="485.40" y="809.7">FOXA1 <tspan fill="#707070">+</tspan></text>
<text x="530.50" y="809.7">GREB1 <tspan fill="#707070">+</tspan></text>
</g>
<g font-size="7.8" fill="#1a1a1a">
<text x="684.6" y="810" text-anchor="end">ZNF217</text>
<text x="684.6" y="823.6" text-anchor="end">TLE3</text>
</g>
<circle cx="604.80" cy="808.2" r="1.1" fill="#111"/>
<circle cx="608.80" cy="808.2" r="1.1" fill="#111"/>
<circle cx="612.80" cy="808.2" r="1.1" fill="#111"/>
<circle cx="573.30" cy="822.3" r="1.1" fill="#111"/>
<circle cx="577.30" cy="822.3" r="1.1" fill="#111"/>
<circle cx="581.30" cy="822.3" r="1.1" fill="#111"/>
<g font-size="7.7" fill="#1a1a1a">
<text x="42.0" y="823.1">CEBP ... ZNF217</text>
<text x="129.3" y="823.1">NR2F2 ... ZNF217</text>
<text x="209.5" y="823.1">CTBP ... ZNF217</text>
<text x="282.0" y="823.1">E2F1 ... ZNF217</text>
<text x="348.4" y="823.1">ESR1 ... ZNF217</text>
<text x="411.3" y="823.1">FOXA1 ... ZNF217</text>
</g>
<g font-size="9.1" fill="#1a1a1a">
<text x="191.0" y="735.9">FOXA1 + NR2F2</text>
<text x="322.8" y="696.6">FOXA1 + E2F1</text>
<text x="289.6" y="762.4">ESR1 + E2F1</text>
<text x="388.1" y="738.6">FOXA1 + ESR1</text>
<text x="452.3" y="744.5">FOXA1 + SIN3</text>
<text x="483.7" y="755.3">FOXA1 + TCF12</text>
<text x="620.5" y="757.3">TCF12 + TLE3</text>
</g>
</svg>
</body></html>
